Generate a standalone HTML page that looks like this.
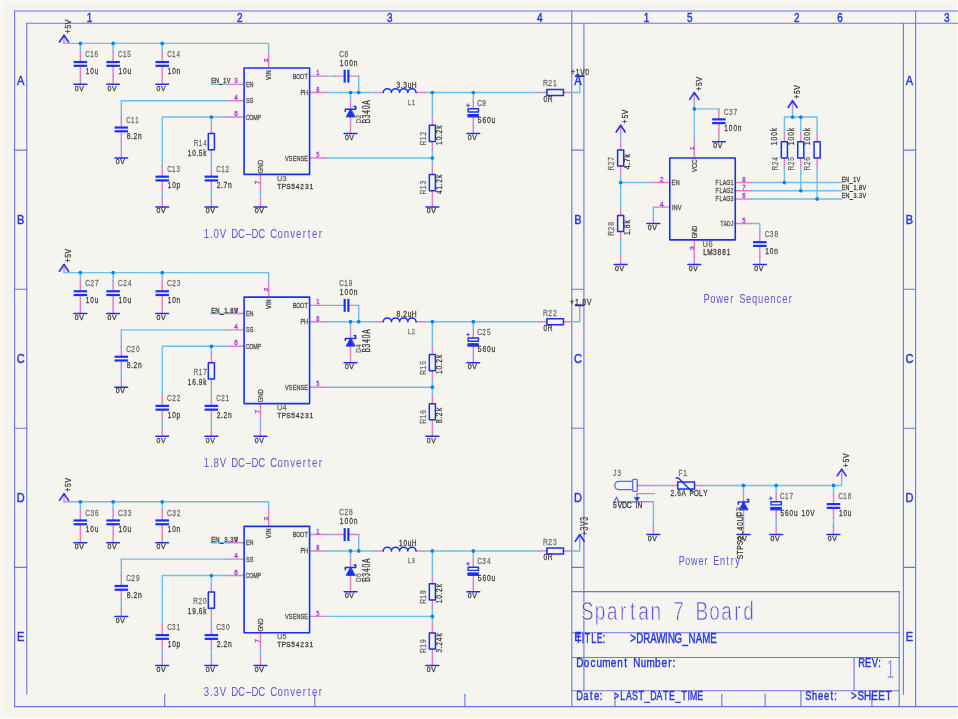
<!DOCTYPE html>
<html><head><meta charset="utf-8"><style>
html,body{margin:0;padding:0;background:#F5F4EF;overflow:hidden}
svg{display:block}
.tx{will-change:transform}
</style></head><body>
<svg width="958" height="719" viewBox="0 0 958 719">
<rect width="958" height="719" fill="#F5F4EF"/>
<rect x="1.5" y="1.5" width="956" height="716.5" fill="none" stroke="#FFFFFF" stroke-width="1"/>
<g stroke="#6677E6" fill="none" stroke-linecap="round"><line x1="14.6" y1="11" x2="958" y2="11" stroke-width="1.1"/><line x1="26.8" y1="23.2" x2="958" y2="23.2" stroke-width="1.1"/><line x1="14.6" y1="11" x2="14.6" y2="706.6" stroke-width="1.1"/><line x1="26.8" y1="23.2" x2="26.8" y2="694.2" stroke-width="1.1"/><line x1="14.6" y1="706.6" x2="958" y2="706.6" stroke-width="1.1"/><line x1="915.6" y1="11" x2="915.6" y2="706.6" stroke-width="1.1"/><line x1="903.4" y1="23.2" x2="903.4" y2="694.2" stroke-width="1.1"/><line x1="14.6" y1="150.1" x2="26.8" y2="150.1" stroke-width="1.1"/><line x1="903.4" y1="150.1" x2="915.6" y2="150.1" stroke-width="1.1"/><line x1="571.8" y1="150.1" x2="583.9" y2="150.1" stroke-width="1.1"/><line x1="14.6" y1="289.2" x2="26.8" y2="289.2" stroke-width="1.1"/><line x1="903.4" y1="289.2" x2="915.6" y2="289.2" stroke-width="1.1"/><line x1="571.8" y1="289.2" x2="583.9" y2="289.2" stroke-width="1.1"/><line x1="14.6" y1="428.3" x2="26.8" y2="428.3" stroke-width="1.1"/><line x1="903.4" y1="428.3" x2="915.6" y2="428.3" stroke-width="1.1"/><line x1="571.8" y1="428.3" x2="583.9" y2="428.3" stroke-width="1.1"/><line x1="14.6" y1="567.4" x2="26.8" y2="567.4" stroke-width="1.1"/><line x1="903.4" y1="567.4" x2="915.6" y2="567.4" stroke-width="1.1"/><line x1="571.8" y1="567.4" x2="583.9" y2="567.4" stroke-width="1.1"/><line x1="164.7" y1="694.2" x2="164.7" y2="706.6" stroke-width="1.1"/><line x1="314.8" y1="694.2" x2="314.8" y2="706.6" stroke-width="1.1"/><line x1="464.9" y1="694.2" x2="464.9" y2="706.6" stroke-width="1.1"/><line x1="615" y1="694.2" x2="615" y2="706.6" stroke-width="1.1"/><line x1="765.1" y1="694.2" x2="765.1" y2="706.6" stroke-width="1.1"/><line x1="721.8" y1="694.2" x2="721.8" y2="706.6" stroke-width="1.1"/><line x1="871.9" y1="694.2" x2="871.9" y2="706.6" stroke-width="1.1"/><line x1="571.8" y1="11" x2="571.8" y2="706.6" stroke-width="1.1"/><line x1="583.9" y1="23.2" x2="583.9" y2="690.6" stroke-width="1.1"/><line x1="571.8" y1="591.6" x2="899.2" y2="591.6" stroke-width="1.1"/><line x1="571.8" y1="632.7" x2="899.2" y2="632.7" stroke-width="1.1"/><line x1="571.8" y1="657.5" x2="899.2" y2="657.5" stroke-width="1.1"/><line x1="571.8" y1="690.7" x2="899.2" y2="690.7" stroke-width="1.1"/><line x1="899.2" y1="591.6" x2="899.2" y2="706.6" stroke-width="1.1"/><line x1="854.1" y1="657.5" x2="854.1" y2="690.7" stroke-width="1.1"/><line x1="800.9" y1="690.7" x2="800.9" y2="706.6" stroke-width="1.1"/></g>
<g stroke="#6CBEEC" stroke-width="1.4" fill="none" stroke-linecap="round" stroke-linejoin="round"><polyline points="64.01,43.4 268.66,43.4 268.66,51.59"/><polyline points="80.38,43.4 80.38,51.59"/><polyline points="113.12,43.4 113.12,51.59"/><polyline points="162.24,43.4 162.24,51.59"/><polyline points="210.95,84.33 227.73,84.33"/><polyline points="121.31,117.07 121.31,100.7 227.73,100.7"/><polyline points="121.31,141.63 121.31,149.82"/><polyline points="162.24,166.19 162.24,117.07 227.73,117.07"/><polyline points="211.36,117.07 211.36,125.26"/><polyline points="211.36,158 211.36,166.19"/><polyline points="211.36,190.75 211.36,198.93"/><polyline points="162.24,190.75 162.24,198.93"/><polyline points="260.47,190.75 260.47,198.93"/><polyline points="325.96,76.14 334.15,76.14"/><polyline points="358.7,76.14 358.7,92.52"/><polyline points="325.96,92.52 375.08,92.52"/><polyline points="350.52,92.52 350.52,100.7"/><polyline points="424.19,92.52 538.8,92.52"/><polyline points="571.54,92.52 579.73,92.52 579.73,84.33"/><polyline points="432.38,92.52 432.38,117.07"/><polyline points="432.38,149.82 432.38,166.19"/><polyline points="325.96,158 432.38,158"/><polyline points="473.31,92.52 473.31,100.7"/><polyline points="64.01,272.61 268.66,272.61 268.66,280.79"/><polyline points="80.38,272.61 80.38,280.79"/><polyline points="113.12,272.61 113.12,280.79"/><polyline points="162.24,272.61 162.24,280.79"/><polyline points="210.95,313.54 227.73,313.54"/><polyline points="121.31,346.28 121.31,329.91 227.73,329.91"/><polyline points="121.31,370.84 121.31,379.03"/><polyline points="162.24,395.4 162.24,346.28 227.73,346.28"/><polyline points="211.36,346.28 211.36,354.47"/><polyline points="211.36,387.21 211.36,395.4"/><polyline points="211.36,419.96 211.36,428.14"/><polyline points="162.24,419.96 162.24,428.14"/><polyline points="260.47,419.96 260.47,428.14"/><polyline points="325.96,305.35 334.15,305.35"/><polyline points="358.7,305.35 358.7,321.72"/><polyline points="325.96,321.72 375.08,321.72"/><polyline points="350.52,321.72 350.52,329.91"/><polyline points="424.19,321.72 538.8,321.72"/><polyline points="571.54,321.72 579.73,321.72 579.73,313.54"/><polyline points="432.38,321.72 432.38,346.28"/><polyline points="432.38,379.03 432.38,395.4"/><polyline points="325.96,387.21 432.38,387.21"/><polyline points="473.31,321.72 473.31,329.91"/><polyline points="64.01,501.82 268.66,501.82 268.66,510"/><polyline points="80.38,501.82 80.38,510"/><polyline points="113.12,501.82 113.12,510"/><polyline points="162.24,501.82 162.24,510"/><polyline points="210.95,542.75 227.73,542.75"/><polyline points="121.31,575.49 121.31,559.12 227.73,559.12"/><polyline points="121.31,600.05 121.31,608.23"/><polyline points="162.24,624.61 162.24,575.49 227.73,575.49"/><polyline points="211.36,575.49 211.36,583.68"/><polyline points="211.36,616.42 211.36,624.61"/><polyline points="211.36,649.16 211.36,657.35"/><polyline points="162.24,649.16 162.24,657.35"/><polyline points="260.47,649.16 260.47,657.35"/><polyline points="325.96,534.56 334.15,534.56"/><polyline points="358.7,534.56 358.7,550.93"/><polyline points="325.96,550.93 375.08,550.93"/><polyline points="350.52,550.93 350.52,559.12"/><polyline points="424.19,550.93 538.8,550.93"/><polyline points="571.54,550.93 579.73,550.93 579.73,542.75"/><polyline points="432.38,550.93 432.38,575.49"/><polyline points="432.38,608.23 432.38,624.61"/><polyline points="325.96,616.42 432.38,616.42"/><polyline points="473.31,550.93 473.31,559.12"/><polyline points="694.33,100.7 694.33,141.63"/><polyline points="694.33,108.89 718.89,108.89"/><polyline points="620.66,133.45 620.66,141.63"/><polyline points="620.66,174.38 620.66,207.12"/><polyline points="620.66,182.56 653.4,182.56"/><polyline points="620.66,239.86 620.66,256.24"/><polyline points="653.4,207.12 653.4,215.31"/><polyline points="751.63,182.56 841.68,182.56"/><polyline points="751.63,190.75 841.68,190.75"/><polyline points="751.63,198.93 841.68,198.93"/><polyline points="751.63,223.49 759.82,223.49 759.82,231.68"/><polyline points="784.38,166.19 784.38,182.56"/><polyline points="784.38,133.45 784.38,117.07 817.12,117.07 817.12,133.45"/><polyline points="800.75,117.07 800.75,133.45"/><polyline points="800.75,166.19 800.75,190.75"/><polyline points="817.12,166.19 817.12,198.93"/><polyline points="792.56,108.89 792.56,117.07"/><polyline points="653.4,485.44 669.77,485.44"/><polyline points="653.4,501.82 653.4,526.37"/><polyline points="702.52,485.44 841.68,485.44 841.68,477.26"/><polyline points="743.45,485.44 743.45,493.63"/><polyline points="743.45,518.19 743.45,526.37"/><polyline points="776.19,485.44 776.19,493.63"/><polyline points="776.19,518.19 776.19,526.37"/><polyline points="833.49,485.44 833.49,493.63"/><polyline points="833.49,518.19 833.49,526.37"/></g>
<g stroke="#E07CCB" stroke-width="1.4" stroke-linecap="round"><line x1="64.01" y1="35.21" x2="64.01" y2="43.4"/><line x1="80.38" y1="51.59" x2="80.38" y2="62.06"/><line x1="80.38" y1="65.77" x2="80.38" y2="76.14"/><line x1="80.38" y1="76.14" x2="80.38" y2="84.33"/><line x1="113.12" y1="51.59" x2="113.12" y2="62.06"/><line x1="113.12" y1="65.77" x2="113.12" y2="76.14"/><line x1="113.12" y1="76.14" x2="113.12" y2="84.33"/><line x1="162.24" y1="51.59" x2="162.24" y2="62.06"/><line x1="162.24" y1="65.77" x2="162.24" y2="76.14"/><line x1="162.24" y1="76.14" x2="162.24" y2="84.33"/><line x1="121.31" y1="117.07" x2="121.31" y2="127.55"/><line x1="121.31" y1="131.25" x2="121.31" y2="141.63"/><line x1="121.31" y1="149.82" x2="121.31" y2="158"/><line x1="162.24" y1="166.19" x2="162.24" y2="176.67"/><line x1="162.24" y1="180.37" x2="162.24" y2="190.75"/><line x1="162.24" y1="198.93" x2="162.24" y2="207.12"/><line x1="211.36" y1="166.19" x2="211.36" y2="176.67"/><line x1="211.36" y1="180.37" x2="211.36" y2="190.75"/><line x1="211.36" y1="198.93" x2="211.36" y2="207.12"/><line x1="211.36" y1="125.26" x2="211.36" y2="133.45"/><line x1="211.36" y1="149.82" x2="211.36" y2="158"/><line x1="268.66" y1="51.59" x2="268.66" y2="67.96"/><line x1="227.73" y1="84.33" x2="244.1" y2="84.33"/><line x1="227.73" y1="100.7" x2="244.1" y2="100.7"/><line x1="227.73" y1="117.07" x2="244.1" y2="117.07"/><line x1="309.59" y1="76.14" x2="325.96" y2="76.14"/><line x1="309.59" y1="92.52" x2="325.96" y2="92.52"/><line x1="309.59" y1="158" x2="325.96" y2="158"/><line x1="260.47" y1="174.38" x2="260.47" y2="190.75"/><line x1="260.47" y1="198.93" x2="260.47" y2="207.12"/><line x1="334.15" y1="76.14" x2="344.82" y2="76.14"/><line x1="348.03" y1="76.14" x2="358.7" y2="76.14"/><line x1="350.52" y1="100.7" x2="350.52" y2="109.18"/><line x1="350.52" y1="116.88" x2="350.52" y2="125.26"/><line x1="350.52" y1="125.26" x2="350.52" y2="133.45"/><line x1="375.08" y1="92.52" x2="383.26" y2="92.52"/><line x1="416.01" y1="92.52" x2="424.19" y2="92.52"/><line x1="432.38" y1="117.07" x2="432.38" y2="125.26"/><line x1="432.38" y1="141.63" x2="432.38" y2="149.82"/><line x1="432.38" y1="166.19" x2="432.38" y2="174.38"/><line x1="432.38" y1="190.75" x2="432.38" y2="198.93"/><line x1="432.38" y1="198.93" x2="432.38" y2="207.12"/><line x1="473.31" y1="100.7" x2="473.31" y2="108.78"/><line x1="473.31" y1="116.98" x2="473.31" y2="125.26"/><line x1="473.31" y1="125.26" x2="473.31" y2="133.45"/><line x1="538.8" y1="92.52" x2="546.98" y2="92.52"/><line x1="563.35" y1="92.52" x2="571.54" y2="92.52"/><line x1="579.73" y1="76.14" x2="579.73" y2="84.33"/><line x1="64.01" y1="264.42" x2="64.01" y2="272.61"/><line x1="80.38" y1="280.79" x2="80.38" y2="291.27"/><line x1="80.38" y1="294.97" x2="80.38" y2="305.35"/><line x1="80.38" y1="305.35" x2="80.38" y2="313.54"/><line x1="113.12" y1="280.79" x2="113.12" y2="291.27"/><line x1="113.12" y1="294.97" x2="113.12" y2="305.35"/><line x1="113.12" y1="305.35" x2="113.12" y2="313.54"/><line x1="162.24" y1="280.79" x2="162.24" y2="291.27"/><line x1="162.24" y1="294.97" x2="162.24" y2="305.35"/><line x1="162.24" y1="305.35" x2="162.24" y2="313.54"/><line x1="121.31" y1="346.28" x2="121.31" y2="356.76"/><line x1="121.31" y1="360.46" x2="121.31" y2="370.84"/><line x1="121.31" y1="379.03" x2="121.31" y2="387.21"/><line x1="162.24" y1="395.4" x2="162.24" y2="405.88"/><line x1="162.24" y1="409.58" x2="162.24" y2="419.96"/><line x1="162.24" y1="428.14" x2="162.24" y2="436.33"/><line x1="211.36" y1="395.4" x2="211.36" y2="405.88"/><line x1="211.36" y1="409.58" x2="211.36" y2="419.96"/><line x1="211.36" y1="428.14" x2="211.36" y2="436.33"/><line x1="211.36" y1="354.47" x2="211.36" y2="362.65"/><line x1="211.36" y1="379.03" x2="211.36" y2="387.21"/><line x1="268.66" y1="280.79" x2="268.66" y2="297.17"/><line x1="227.73" y1="313.54" x2="244.1" y2="313.54"/><line x1="227.73" y1="329.91" x2="244.1" y2="329.91"/><line x1="227.73" y1="346.28" x2="244.1" y2="346.28"/><line x1="309.59" y1="305.35" x2="325.96" y2="305.35"/><line x1="309.59" y1="321.72" x2="325.96" y2="321.72"/><line x1="309.59" y1="387.21" x2="325.96" y2="387.21"/><line x1="260.47" y1="403.58" x2="260.47" y2="419.96"/><line x1="260.47" y1="428.14" x2="260.47" y2="436.33"/><line x1="334.15" y1="305.35" x2="344.82" y2="305.35"/><line x1="348.03" y1="305.35" x2="358.7" y2="305.35"/><line x1="350.52" y1="329.91" x2="350.52" y2="338.39"/><line x1="350.52" y1="346.09" x2="350.52" y2="354.47"/><line x1="350.52" y1="354.47" x2="350.52" y2="362.65"/><line x1="375.08" y1="321.72" x2="383.26" y2="321.72"/><line x1="416.01" y1="321.72" x2="424.19" y2="321.72"/><line x1="432.38" y1="346.28" x2="432.38" y2="354.47"/><line x1="432.38" y1="370.84" x2="432.38" y2="379.03"/><line x1="432.38" y1="395.4" x2="432.38" y2="403.58"/><line x1="432.38" y1="419.96" x2="432.38" y2="428.14"/><line x1="432.38" y1="428.14" x2="432.38" y2="436.33"/><line x1="473.31" y1="329.91" x2="473.31" y2="337.99"/><line x1="473.31" y1="346.19" x2="473.31" y2="354.47"/><line x1="473.31" y1="354.47" x2="473.31" y2="362.65"/><line x1="538.8" y1="321.72" x2="546.98" y2="321.72"/><line x1="563.35" y1="321.72" x2="571.54" y2="321.72"/><line x1="579.73" y1="305.35" x2="579.73" y2="313.54"/><line x1="64.01" y1="493.63" x2="64.01" y2="501.82"/><line x1="80.38" y1="510" x2="80.38" y2="520.48"/><line x1="80.38" y1="524.18" x2="80.38" y2="534.56"/><line x1="80.38" y1="534.56" x2="80.38" y2="542.75"/><line x1="113.12" y1="510" x2="113.12" y2="520.48"/><line x1="113.12" y1="524.18" x2="113.12" y2="534.56"/><line x1="113.12" y1="534.56" x2="113.12" y2="542.75"/><line x1="162.24" y1="510" x2="162.24" y2="520.48"/><line x1="162.24" y1="524.18" x2="162.24" y2="534.56"/><line x1="162.24" y1="534.56" x2="162.24" y2="542.75"/><line x1="121.31" y1="575.49" x2="121.31" y2="585.97"/><line x1="121.31" y1="589.67" x2="121.31" y2="600.05"/><line x1="121.31" y1="608.23" x2="121.31" y2="616.42"/><line x1="162.24" y1="624.61" x2="162.24" y2="635.09"/><line x1="162.24" y1="638.78" x2="162.24" y2="649.16"/><line x1="162.24" y1="657.35" x2="162.24" y2="665.54"/><line x1="211.36" y1="624.61" x2="211.36" y2="635.09"/><line x1="211.36" y1="638.78" x2="211.36" y2="649.16"/><line x1="211.36" y1="657.35" x2="211.36" y2="665.54"/><line x1="211.36" y1="583.68" x2="211.36" y2="591.86"/><line x1="211.36" y1="608.23" x2="211.36" y2="616.42"/><line x1="268.66" y1="510" x2="268.66" y2="526.37"/><line x1="227.73" y1="542.75" x2="244.1" y2="542.75"/><line x1="227.73" y1="559.12" x2="244.1" y2="559.12"/><line x1="227.73" y1="575.49" x2="244.1" y2="575.49"/><line x1="309.59" y1="534.56" x2="325.96" y2="534.56"/><line x1="309.59" y1="550.93" x2="325.96" y2="550.93"/><line x1="309.59" y1="616.42" x2="325.96" y2="616.42"/><line x1="260.47" y1="632.79" x2="260.47" y2="649.16"/><line x1="260.47" y1="657.35" x2="260.47" y2="665.54"/><line x1="334.15" y1="534.56" x2="344.82" y2="534.56"/><line x1="348.03" y1="534.56" x2="358.7" y2="534.56"/><line x1="350.52" y1="559.12" x2="350.52" y2="567.6"/><line x1="350.52" y1="575.3" x2="350.52" y2="583.68"/><line x1="350.52" y1="583.68" x2="350.52" y2="591.86"/><line x1="375.08" y1="550.93" x2="383.26" y2="550.93"/><line x1="416.01" y1="550.93" x2="424.19" y2="550.93"/><line x1="432.38" y1="575.49" x2="432.38" y2="583.68"/><line x1="432.38" y1="600.05" x2="432.38" y2="608.23"/><line x1="432.38" y1="624.61" x2="432.38" y2="632.79"/><line x1="432.38" y1="649.16" x2="432.38" y2="657.35"/><line x1="432.38" y1="657.35" x2="432.38" y2="665.54"/><line x1="473.31" y1="559.12" x2="473.31" y2="567.2"/><line x1="473.31" y1="575.4" x2="473.31" y2="583.68"/><line x1="473.31" y1="583.68" x2="473.31" y2="591.86"/><line x1="538.8" y1="550.93" x2="546.98" y2="550.93"/><line x1="563.35" y1="550.93" x2="571.54" y2="550.93"/><line x1="579.73" y1="534.56" x2="579.73" y2="542.75"/><line x1="694.33" y1="92.52" x2="694.33" y2="100.7"/><line x1="718.89" y1="108.89" x2="718.89" y2="119.37"/><line x1="718.89" y1="123.07" x2="718.89" y2="133.45"/><line x1="718.89" y1="133.45" x2="718.89" y2="141.63"/><line x1="620.66" y1="125.26" x2="620.66" y2="133.45"/><line x1="620.66" y1="141.63" x2="620.66" y2="149.82"/><line x1="620.66" y1="166.19" x2="620.66" y2="174.38"/><line x1="620.66" y1="207.12" x2="620.66" y2="215.31"/><line x1="620.66" y1="231.68" x2="620.66" y2="239.86"/><line x1="620.66" y1="256.24" x2="620.66" y2="264.42"/><line x1="694.33" y1="141.63" x2="694.33" y2="158"/><line x1="653.4" y1="182.56" x2="669.77" y2="182.56"/><line x1="653.4" y1="207.12" x2="669.77" y2="207.12"/><line x1="653.4" y1="215.31" x2="653.4" y2="223.49"/><line x1="694.33" y1="239.86" x2="694.33" y2="256.24"/><line x1="694.33" y1="256.24" x2="694.33" y2="264.42"/><line x1="735.26" y1="182.56" x2="751.63" y2="182.56"/><line x1="735.26" y1="190.75" x2="751.63" y2="190.75"/><line x1="735.26" y1="198.93" x2="751.63" y2="198.93"/><line x1="735.26" y1="223.49" x2="751.63" y2="223.49"/><line x1="759.82" y1="231.68" x2="759.82" y2="242.16"/><line x1="759.82" y1="245.86" x2="759.82" y2="256.24"/><line x1="759.82" y1="256.24" x2="759.82" y2="264.42"/><line x1="784.38" y1="133.45" x2="784.38" y2="141.63"/><line x1="784.38" y1="158" x2="784.38" y2="166.19"/><line x1="800.75" y1="133.45" x2="800.75" y2="141.63"/><line x1="800.75" y1="158" x2="800.75" y2="166.19"/><line x1="817.12" y1="133.45" x2="817.12" y2="141.63"/><line x1="817.12" y1="158" x2="817.12" y2="166.19"/><line x1="792.56" y1="100.7" x2="792.56" y2="108.89"/><line x1="637.03" y1="485.44" x2="653.4" y2="485.44"/><line x1="637.03" y1="493.63" x2="654.6" y2="493.63"/><line x1="637.03" y1="501.82" x2="653.4" y2="501.82"/><line x1="653.4" y1="526.37" x2="653.4" y2="534.56"/><line x1="669.77" y1="485.44" x2="677.96" y2="485.44"/><line x1="694.33" y1="485.44" x2="702.52" y2="485.44"/><line x1="841.68" y1="469.07" x2="841.68" y2="477.26"/><line x1="743.45" y1="493.63" x2="743.45" y2="502.11"/><line x1="743.45" y1="509.81" x2="743.45" y2="518.19"/><line x1="743.45" y1="526.37" x2="743.45" y2="534.56"/><line x1="776.19" y1="493.63" x2="776.19" y2="501.71"/><line x1="776.19" y1="509.91" x2="776.19" y2="518.19"/><line x1="776.19" y1="526.37" x2="776.19" y2="534.56"/><line x1="833.49" y1="493.63" x2="833.49" y2="504.11"/><line x1="833.49" y1="507.81" x2="833.49" y2="518.19"/><line x1="833.49" y1="526.37" x2="833.49" y2="534.56"/></g>
<g stroke="#1830F0" fill="none" stroke-linecap="round" stroke-linejoin="round"><polyline points="59.51,42.01 64.01,35.21 68.51,42.01" stroke-width="1.6" fill="none"/><line x1="73.63" y1="62.06" x2="87.13" y2="62.06" stroke-width="2.2" stroke-linecap="butt"/><line x1="73.63" y1="65.81" x2="87.13" y2="65.81" stroke-width="2.2" stroke-linecap="butt"/><line x1="73.98" y1="84.33" x2="86.78" y2="84.33" stroke-width="1.5"/><line x1="106.37" y1="62.06" x2="119.87" y2="62.06" stroke-width="2.2" stroke-linecap="butt"/><line x1="106.37" y1="65.81" x2="119.87" y2="65.81" stroke-width="2.2" stroke-linecap="butt"/><line x1="106.72" y1="84.33" x2="119.52" y2="84.33" stroke-width="1.5"/><line x1="155.49" y1="62.06" x2="168.99" y2="62.06" stroke-width="2.2" stroke-linecap="butt"/><line x1="155.49" y1="65.81" x2="168.99" y2="65.81" stroke-width="2.2" stroke-linecap="butt"/><line x1="155.84" y1="84.33" x2="168.64" y2="84.33" stroke-width="1.5"/><line x1="114.56" y1="127.55" x2="128.06" y2="127.55" stroke-width="2.2" stroke-linecap="butt"/><line x1="114.56" y1="131.3" x2="128.06" y2="131.3" stroke-width="2.2" stroke-linecap="butt"/><line x1="114.91" y1="158" x2="127.71" y2="158" stroke-width="1.5"/><line x1="155.49" y1="176.67" x2="168.99" y2="176.67" stroke-width="2.2" stroke-linecap="butt"/><line x1="155.49" y1="180.42" x2="168.99" y2="180.42" stroke-width="2.2" stroke-linecap="butt"/><line x1="155.84" y1="207.12" x2="168.64" y2="207.12" stroke-width="1.5"/><line x1="204.61" y1="176.67" x2="218.11" y2="176.67" stroke-width="2.2" stroke-linecap="butt"/><line x1="204.61" y1="180.42" x2="218.11" y2="180.42" stroke-width="2.2" stroke-linecap="butt"/><line x1="204.96" y1="207.12" x2="217.76" y2="207.12" stroke-width="1.5"/><rect x="208.31" y="133.53" width="6.1" height="16.2" stroke-width="1.5" fill="none"/><rect x="244.1" y="67.96" width="65.49" height="106.42" stroke-width="1.6" fill="none"/><line x1="254.07" y1="207.12" x2="266.87" y2="207.12" stroke-width="1.5"/><line x1="344.68" y1="69.69" x2="344.68" y2="82.59" stroke-width="2.2" stroke-linecap="butt"/><line x1="348.38" y1="69.69" x2="348.38" y2="82.59" stroke-width="2.2" stroke-linecap="butt"/><path d="M350.52 109.18 L346.32 116.88 L354.72 116.88 Z" fill="#1830F0" stroke-width="1"/><path d="M345.32 109.18 v2.2 M345.32 109.18 H355.72 M355.72 109.18 v-2.6 h-1.6" stroke-width="1.5" fill="none"/><line x1="344.12" y1="133.45" x2="356.92" y2="133.45" stroke-width="1.5"/><path d="M383.26 92.52 a4.09 3.68 0 0 1 8.19 0 a4.09 3.68 0 0 1 8.19 0 a4.09 3.68 0 0 1 8.19 0 a4.09 3.68 0 0 1 8.19 0" stroke-width="1.5" fill="none"/><rect x="429.33" y="125.35" width="6.1" height="16.2" stroke-width="1.5" fill="none"/><rect x="429.33" y="174.46" width="6.1" height="16.2" stroke-width="1.5" fill="none"/><line x1="425.98" y1="207.12" x2="438.78" y2="207.12" stroke-width="1.5"/><rect x="468.16" y="108.78" width="10.3" height="3.2" stroke-width="1.4" fill="none"/><rect x="468.16" y="114.48" width="10.3" height="2.5" stroke-width="1" fill="#1830F0"/><path d="M466.51 105.38h3M468.01 103.88v3" stroke-width="0.8"/><line x1="466.91" y1="133.45" x2="479.71" y2="133.45" stroke-width="1.5"/><rect x="546.87" y="89.47" width="16.6" height="6.1" stroke-width="1.5" fill="none"/><line x1="575.43" y1="76.14" x2="583.83" y2="76.14" stroke-width="1.6"/><polyline points="59.51,271.22 64.01,264.42 68.51,271.22" stroke-width="1.6" fill="none"/><line x1="73.63" y1="291.27" x2="87.13" y2="291.27" stroke-width="2.2" stroke-linecap="butt"/><line x1="73.63" y1="295.02" x2="87.13" y2="295.02" stroke-width="2.2" stroke-linecap="butt"/><line x1="73.98" y1="313.54" x2="86.78" y2="313.54" stroke-width="1.5"/><line x1="106.37" y1="291.27" x2="119.87" y2="291.27" stroke-width="2.2" stroke-linecap="butt"/><line x1="106.37" y1="295.02" x2="119.87" y2="295.02" stroke-width="2.2" stroke-linecap="butt"/><line x1="106.72" y1="313.54" x2="119.52" y2="313.54" stroke-width="1.5"/><line x1="155.49" y1="291.27" x2="168.99" y2="291.27" stroke-width="2.2" stroke-linecap="butt"/><line x1="155.49" y1="295.02" x2="168.99" y2="295.02" stroke-width="2.2" stroke-linecap="butt"/><line x1="155.84" y1="313.54" x2="168.64" y2="313.54" stroke-width="1.5"/><line x1="114.56" y1="356.76" x2="128.06" y2="356.76" stroke-width="2.2" stroke-linecap="butt"/><line x1="114.56" y1="360.51" x2="128.06" y2="360.51" stroke-width="2.2" stroke-linecap="butt"/><line x1="114.91" y1="387.21" x2="127.71" y2="387.21" stroke-width="1.5"/><line x1="155.49" y1="405.88" x2="168.99" y2="405.88" stroke-width="2.2" stroke-linecap="butt"/><line x1="155.49" y1="409.63" x2="168.99" y2="409.63" stroke-width="2.2" stroke-linecap="butt"/><line x1="155.84" y1="436.33" x2="168.64" y2="436.33" stroke-width="1.5"/><line x1="204.61" y1="405.88" x2="218.11" y2="405.88" stroke-width="2.2" stroke-linecap="butt"/><line x1="204.61" y1="409.63" x2="218.11" y2="409.63" stroke-width="2.2" stroke-linecap="butt"/><line x1="204.96" y1="436.33" x2="217.76" y2="436.33" stroke-width="1.5"/><rect x="208.31" y="362.74" width="6.1" height="16.2" stroke-width="1.5" fill="none"/><rect x="244.1" y="297.17" width="65.49" height="106.42" stroke-width="1.6" fill="none"/><line x1="254.07" y1="436.33" x2="266.87" y2="436.33" stroke-width="1.5"/><line x1="344.68" y1="298.9" x2="344.68" y2="311.8" stroke-width="2.2" stroke-linecap="butt"/><line x1="348.38" y1="298.9" x2="348.38" y2="311.8" stroke-width="2.2" stroke-linecap="butt"/><path d="M350.52 338.39 L346.32 346.09 L354.72 346.09 Z" fill="#1830F0" stroke-width="1"/><path d="M345.32 338.39 v2.2 M345.32 338.39 H355.72 M355.72 338.39 v-2.6 h-1.6" stroke-width="1.5" fill="none"/><line x1="344.12" y1="362.65" x2="356.92" y2="362.65" stroke-width="1.5"/><path d="M383.26 321.72 a4.09 3.68 0 0 1 8.19 0 a4.09 3.68 0 0 1 8.19 0 a4.09 3.68 0 0 1 8.19 0 a4.09 3.68 0 0 1 8.19 0" stroke-width="1.5" fill="none"/><rect x="429.33" y="354.55" width="6.1" height="16.2" stroke-width="1.5" fill="none"/><rect x="429.33" y="403.67" width="6.1" height="16.2" stroke-width="1.5" fill="none"/><line x1="425.98" y1="436.33" x2="438.78" y2="436.33" stroke-width="1.5"/><rect x="468.16" y="337.99" width="10.3" height="3.2" stroke-width="1.4" fill="none"/><rect x="468.16" y="343.69" width="10.3" height="2.5" stroke-width="1" fill="#1830F0"/><path d="M466.51 334.59h3M468.01 333.09v3" stroke-width="0.8"/><line x1="466.91" y1="362.65" x2="479.71" y2="362.65" stroke-width="1.5"/><rect x="546.87" y="318.67" width="16.6" height="6.1" stroke-width="1.5" fill="none"/><line x1="575.43" y1="305.35" x2="583.83" y2="305.35" stroke-width="1.6"/><polyline points="59.51,500.43 64.01,493.63 68.51,500.43" stroke-width="1.6" fill="none"/><line x1="73.63" y1="520.48" x2="87.13" y2="520.48" stroke-width="2.2" stroke-linecap="butt"/><line x1="73.63" y1="524.23" x2="87.13" y2="524.23" stroke-width="2.2" stroke-linecap="butt"/><line x1="73.98" y1="542.75" x2="86.78" y2="542.75" stroke-width="1.5"/><line x1="106.37" y1="520.48" x2="119.87" y2="520.48" stroke-width="2.2" stroke-linecap="butt"/><line x1="106.37" y1="524.23" x2="119.87" y2="524.23" stroke-width="2.2" stroke-linecap="butt"/><line x1="106.72" y1="542.75" x2="119.52" y2="542.75" stroke-width="1.5"/><line x1="155.49" y1="520.48" x2="168.99" y2="520.48" stroke-width="2.2" stroke-linecap="butt"/><line x1="155.49" y1="524.23" x2="168.99" y2="524.23" stroke-width="2.2" stroke-linecap="butt"/><line x1="155.84" y1="542.75" x2="168.64" y2="542.75" stroke-width="1.5"/><line x1="114.56" y1="585.97" x2="128.06" y2="585.97" stroke-width="2.2" stroke-linecap="butt"/><line x1="114.56" y1="589.72" x2="128.06" y2="589.72" stroke-width="2.2" stroke-linecap="butt"/><line x1="114.91" y1="616.42" x2="127.71" y2="616.42" stroke-width="1.5"/><line x1="155.49" y1="635.09" x2="168.99" y2="635.09" stroke-width="2.2" stroke-linecap="butt"/><line x1="155.49" y1="638.84" x2="168.99" y2="638.84" stroke-width="2.2" stroke-linecap="butt"/><line x1="155.84" y1="665.54" x2="168.64" y2="665.54" stroke-width="1.5"/><line x1="204.61" y1="635.09" x2="218.11" y2="635.09" stroke-width="2.2" stroke-linecap="butt"/><line x1="204.61" y1="638.84" x2="218.11" y2="638.84" stroke-width="2.2" stroke-linecap="butt"/><line x1="204.96" y1="665.54" x2="217.76" y2="665.54" stroke-width="1.5"/><rect x="208.31" y="591.95" width="6.1" height="16.2" stroke-width="1.5" fill="none"/><rect x="244.1" y="526.37" width="65.49" height="106.42" stroke-width="1.6" fill="none"/><line x1="254.07" y1="665.54" x2="266.87" y2="665.54" stroke-width="1.5"/><line x1="344.68" y1="528.11" x2="344.68" y2="541.01" stroke-width="2.2" stroke-linecap="butt"/><line x1="348.38" y1="528.11" x2="348.38" y2="541.01" stroke-width="2.2" stroke-linecap="butt"/><path d="M350.52 567.6 L346.32 575.3 L354.72 575.3 Z" fill="#1830F0" stroke-width="1"/><path d="M345.32 567.6 v2.2 M345.32 567.6 H355.72 M355.72 567.6 v-2.6 h-1.6" stroke-width="1.5" fill="none"/><line x1="344.12" y1="591.86" x2="356.92" y2="591.86" stroke-width="1.5"/><path d="M383.26 550.93 a4.09 3.68 0 0 1 8.19 0 a4.09 3.68 0 0 1 8.19 0 a4.09 3.68 0 0 1 8.19 0 a4.09 3.68 0 0 1 8.19 0" stroke-width="1.5" fill="none"/><rect x="429.33" y="583.76" width="6.1" height="16.2" stroke-width="1.5" fill="none"/><rect x="429.33" y="632.88" width="6.1" height="16.2" stroke-width="1.5" fill="none"/><line x1="425.98" y1="665.54" x2="438.78" y2="665.54" stroke-width="1.5"/><rect x="468.16" y="567.2" width="10.3" height="3.2" stroke-width="1.4" fill="none"/><rect x="468.16" y="572.9" width="10.3" height="2.5" stroke-width="1" fill="#1830F0"/><path d="M466.51 563.8h3M468.01 562.3v3" stroke-width="0.8"/><line x1="466.91" y1="591.86" x2="479.71" y2="591.86" stroke-width="1.5"/><rect x="546.87" y="547.88" width="16.6" height="6.1" stroke-width="1.5" fill="none"/><polyline points="575.23,541.36 579.73,534.56 584.23,541.36" stroke-width="1.6" fill="none"/><polyline points="689.83,99.32 694.33,92.52 698.83,99.32" stroke-width="1.6" fill="none"/><line x1="712.14" y1="119.37" x2="725.64" y2="119.37" stroke-width="2.2" stroke-linecap="butt"/><line x1="712.14" y1="123.12" x2="725.64" y2="123.12" stroke-width="2.2" stroke-linecap="butt"/><line x1="712.49" y1="141.63" x2="725.29" y2="141.63" stroke-width="1.5"/><polyline points="616.16,132.06 620.66,125.26 625.16,132.06" stroke-width="1.6" fill="none"/><rect x="617.61" y="149.9" width="6.1" height="16.2" stroke-width="1.5" fill="none"/><rect x="617.61" y="215.39" width="6.1" height="16.2" stroke-width="1.5" fill="none"/><line x1="614.26" y1="264.42" x2="627.06" y2="264.42" stroke-width="1.5"/><rect x="669.77" y="158" width="65.49" height="81.86" stroke-width="1.6" fill="none"/><line x1="647" y1="223.49" x2="659.8" y2="223.49" stroke-width="1.5"/><line x1="687.93" y1="264.42" x2="700.73" y2="264.42" stroke-width="1.5"/><line x1="753.07" y1="242.16" x2="766.57" y2="242.16" stroke-width="2.2" stroke-linecap="butt"/><line x1="753.07" y1="245.91" x2="766.57" y2="245.91" stroke-width="2.2" stroke-linecap="butt"/><line x1="753.42" y1="264.42" x2="766.22" y2="264.42" stroke-width="1.5"/><rect x="781.33" y="141.72" width="6.1" height="16.2" stroke-width="1.5" fill="none"/><rect x="797.7" y="141.72" width="6.1" height="16.2" stroke-width="1.5" fill="none"/><rect x="814.07" y="141.72" width="6.1" height="16.2" stroke-width="1.5" fill="none"/><polyline points="788.06,107.5 792.56,100.7 797.06,107.5" stroke-width="1.6" fill="none"/><path d="M632.6 481.3 H619 A4.2 4.2 0 0 0 619 489.7 H632.6" stroke="#5A6CF0" stroke-width="1.3" fill="none"/><rect x="632.6" y="479.3" width="4.7" height="12.1" rx="1.2" stroke="#5A6CF0" stroke-width="1.3" fill="none"/><polyline points="637,493.63 637,498 " stroke="#5A6CF0" stroke-width="1.2" fill="none"/><polyline points="619,501.82 637,501.82" stroke="#5A6CF0" stroke-width="1.3" fill="none"/><path d="M634.5 497.6 L639.5 497.6 L637 501.3 Z" fill="#1830F0" stroke-width="0.5"/><polyline points="614,502.2 616.5,497.2 619,502.2" stroke="#5A6CF0" stroke-width="1.3" fill="none"/><line x1="647" y1="534.56" x2="659.8" y2="534.56" stroke-width="1.5"/><rect x="677.74" y="481.99" width="16.8" height="6.9" stroke-width="1.5" fill="none"/><path d="M678.34 477.94 h-2.2 M678.34 477.94 L692.14 491.64" stroke-width="1.4" fill="none"/><polyline points="837.18,475.87 841.68,469.07 846.18,475.87" stroke-width="1.6" fill="none"/><path d="M743.45 502.11 L739.25 509.81 L747.65 509.81 Z" fill="#1830F0" stroke-width="1"/><path d="M738.25 502.11 v2.2 M738.25 502.11 H748.65 M748.65 502.11 v-2.6 h-1.6" stroke-width="1.5" fill="none"/><line x1="737.05" y1="534.56" x2="749.85" y2="534.56" stroke-width="1.5"/><rect x="771.04" y="501.71" width="10.3" height="3.2" stroke-width="1.4" fill="none"/><rect x="771.04" y="507.41" width="10.3" height="2.5" stroke-width="1" fill="#1830F0"/><path d="M769.39 498.31h3M770.89 496.81v3" stroke-width="0.8"/><line x1="769.79" y1="534.56" x2="782.59" y2="534.56" stroke-width="1.5"/><line x1="826.74" y1="504.11" x2="840.24" y2="504.11" stroke-width="2.2" stroke-linecap="butt"/><line x1="826.74" y1="507.86" x2="840.24" y2="507.86" stroke-width="2.2" stroke-linecap="butt"/><line x1="827.09" y1="534.56" x2="839.89" y2="534.56" stroke-width="1.5"/></g>
<g fill="#0A84E8"><circle cx="80.38" cy="43.4" r="1.85"/><circle cx="113.12" cy="43.4" r="1.85"/><circle cx="162.24" cy="43.4" r="1.85"/><circle cx="211.36" cy="117.07" r="1.85"/><circle cx="350.52" cy="92.52" r="1.85"/><circle cx="358.7" cy="92.52" r="1.85"/><circle cx="432.38" cy="92.52" r="1.85"/><circle cx="432.38" cy="158" r="1.85"/><circle cx="473.31" cy="92.52" r="1.85"/><circle cx="80.38" cy="272.61" r="1.85"/><circle cx="113.12" cy="272.61" r="1.85"/><circle cx="162.24" cy="272.61" r="1.85"/><circle cx="211.36" cy="346.28" r="1.85"/><circle cx="350.52" cy="321.72" r="1.85"/><circle cx="358.7" cy="321.72" r="1.85"/><circle cx="432.38" cy="321.72" r="1.85"/><circle cx="432.38" cy="387.21" r="1.85"/><circle cx="473.31" cy="321.72" r="1.85"/><circle cx="80.38" cy="501.82" r="1.85"/><circle cx="113.12" cy="501.82" r="1.85"/><circle cx="162.24" cy="501.82" r="1.85"/><circle cx="211.36" cy="575.49" r="1.85"/><circle cx="350.52" cy="550.93" r="1.85"/><circle cx="358.7" cy="550.93" r="1.85"/><circle cx="432.38" cy="550.93" r="1.85"/><circle cx="432.38" cy="616.42" r="1.85"/><circle cx="473.31" cy="550.93" r="1.85"/><circle cx="694.33" cy="108.89" r="1.85"/><circle cx="620.66" cy="182.56" r="1.85"/><circle cx="784.38" cy="182.56" r="1.85"/><circle cx="800.75" cy="190.75" r="1.85"/><circle cx="817.12" cy="198.93" r="1.85"/><circle cx="792.56" cy="117.07" r="1.85"/><circle cx="800.75" cy="117.07" r="1.85"/><circle cx="743.45" cy="485.44" r="1.85"/><circle cx="776.19" cy="485.44" r="1.85"/><circle cx="833.49" cy="485.44" r="1.85"/></g>
<g class="tx" style="font-family:'Liberation Sans',sans-serif"><text transform="translate(71.31,33.31) rotate(-90) scale(0.81,1)" x="2.34 8.19 14.04" y="0" text-anchor="middle" style="font-size:8.36px;fill:#3C3C3C;font-family:Liberation Sans;stroke:#3C3C3C;stroke-width:0.3">+5V</text><text transform="translate(85.78,57.26) scale(0.68,1)" x="2.59 9.07 15.55" y="0" text-anchor="middle" style="font-size:9.25px;fill:#6E6E6E;font-family:Liberation Sans;stroke:#6E6E6E;stroke-width:0.3">C16</text><text transform="translate(85.78,73.77) scale(0.68,1)" x="2.67 9.36 15.78" y="0" text-anchor="middle" style="font-size:9.55px;fill:#3C3C3C;font-family:Liberation Sans;stroke:#3C3C3C;stroke-width:0.3">10u</text><text transform="translate(74.73,90.53) scale(0.93,1)" x="2.09 7.31" y="0" text-anchor="middle" style="font-size:7.46px;fill:#3C3C3C;font-family:Liberation Sans;stroke:#3C3C3C;stroke-width:0.3">0V</text><text transform="translate(118.52,57.26) scale(0.68,1)" x="2.59 9.07 15.55" y="0" text-anchor="middle" style="font-size:9.25px;fill:#6E6E6E;font-family:Liberation Sans;stroke:#6E6E6E;stroke-width:0.3">C15</text><text transform="translate(118.52,73.77) scale(0.68,1)" x="2.67 9.36 15.78" y="0" text-anchor="middle" style="font-size:9.55px;fill:#3C3C3C;font-family:Liberation Sans;stroke:#3C3C3C;stroke-width:0.3">10u</text><text transform="translate(107.47,90.53) scale(0.93,1)" x="2.09 7.31" y="0" text-anchor="middle" style="font-size:7.46px;fill:#3C3C3C;font-family:Liberation Sans;stroke:#3C3C3C;stroke-width:0.3">0V</text><text transform="translate(167.64,57.26) scale(0.68,1)" x="2.59 9.07 15.55" y="0" text-anchor="middle" style="font-size:9.25px;fill:#6E6E6E;font-family:Liberation Sans;stroke:#6E6E6E;stroke-width:0.3">C14</text><text transform="translate(167.64,73.77) scale(0.68,1)" x="2.67 9.36 15.78" y="0" text-anchor="middle" style="font-size:9.55px;fill:#3C3C3C;font-family:Liberation Sans;stroke:#3C3C3C;stroke-width:0.3">10n</text><text transform="translate(156.59,90.53) scale(0.93,1)" x="2.09 7.31" y="0" text-anchor="middle" style="font-size:7.46px;fill:#3C3C3C;font-family:Liberation Sans;stroke:#3C3C3C;stroke-width:0.3">0V</text><text transform="translate(126.71,122.75) scale(0.66,1)" x="2.59 9.07 15.55" y="0" text-anchor="middle" style="font-size:9.25px;fill:#6E6E6E;font-family:Liberation Sans;stroke:#6E6E6E;stroke-width:0.3">C11</text><text transform="translate(126.71,139.25) scale(0.7,1)" x="2.67 7.52 12.37 18.79" y="0" text-anchor="middle" style="font-size:9.55px;fill:#3C3C3C;font-family:Liberation Sans;stroke:#3C3C3C;stroke-width:0.3">8.2n</text><text transform="translate(115.66,164.2) scale(0.93,1)" x="2.09 7.31" y="0" text-anchor="middle" style="font-size:7.46px;fill:#3C3C3C;font-family:Liberation Sans;stroke:#3C3C3C;stroke-width:0.3">0V</text><text transform="translate(167.64,171.87) scale(0.68,1)" x="2.59 9.07 15.55" y="0" text-anchor="middle" style="font-size:9.25px;fill:#6E6E6E;font-family:Liberation Sans;stroke:#6E6E6E;stroke-width:0.3">C13</text><text transform="translate(167.64,188.37) scale(0.68,1)" x="2.67 9.36 15.78" y="0" text-anchor="middle" style="font-size:9.55px;fill:#3C3C3C;font-family:Liberation Sans;stroke:#3C3C3C;stroke-width:0.3">10p</text><text transform="translate(156.59,213.32) scale(0.93,1)" x="2.09 7.31" y="0" text-anchor="middle" style="font-size:7.46px;fill:#3C3C3C;font-family:Liberation Sans;stroke:#3C3C3C;stroke-width:0.3">0V</text><text transform="translate(216.76,171.87) scale(0.68,1)" x="2.59 9.07 15.55" y="0" text-anchor="middle" style="font-size:9.25px;fill:#6E6E6E;font-family:Liberation Sans;stroke:#6E6E6E;stroke-width:0.3">C12</text><text transform="translate(216.76,188.37) scale(0.7,1)" x="2.67 7.52 12.37 18.79" y="0" text-anchor="middle" style="font-size:9.55px;fill:#3C3C3C;font-family:Liberation Sans;stroke:#3C3C3C;stroke-width:0.3">2.7n</text><text transform="translate(205.71,213.32) scale(0.93,1)" x="2.09 7.31" y="0" text-anchor="middle" style="font-size:7.46px;fill:#3C3C3C;font-family:Liberation Sans;stroke:#3C3C3C;stroke-width:0.3">0V</text><text transform="translate(194.3,145.9) scale(0.66,1)" x="2.67 9.36 16.05" y="0" text-anchor="middle" style="font-size:9.55px;fill:#6E6E6E;font-family:Liberation Sans;stroke:#6E6E6E;stroke-width:0.3">R14</text><text transform="translate(187.8,155.5) scale(0.73,1)" x="2.47 8.63 13.1 17.57 23.49" y="0" text-anchor="middle" style="font-size:8.81px;fill:#3C3C3C;font-family:Liberation Sans;stroke:#3C3C3C;stroke-width:0.3">10.5k</text><text transform="translate(254.82,213.32) scale(0.93,1)" x="2.09 7.31" y="0" text-anchor="middle" style="font-size:7.46px;fill:#3C3C3C;font-family:Liberation Sans;stroke:#3C3C3C;stroke-width:0.3">0V</text><text transform="translate(246.2,86.83) scale(0.74,1)" x="2.09 7.31" y="0" text-anchor="middle" style="font-size:7.46px;fill:#4E4E4E;font-family:Liberation Sans;stroke:#4E4E4E;stroke-width:0.3">EN</text><text transform="translate(246.2,103.2) scale(0.74,1)" x="2.09 7.31" y="0" text-anchor="middle" style="font-size:7.46px;fill:#4E4E4E;font-family:Liberation Sans;stroke:#4E4E4E;stroke-width:0.3">SS</text><text transform="translate(246.2,119.57) scale(0.71,1)" x="2.09 7.31 12.93 18.54" y="0" text-anchor="middle" style="font-size:7.46px;fill:#4E4E4E;font-family:Liberation Sans;stroke:#4E4E4E;stroke-width:0.3">COMP</text><text transform="translate(292.99,78.64) scale(0.74,1)" x="2.09 7.31 12.54 17.76" y="0" text-anchor="middle" style="font-size:7.46px;fill:#4E4E4E;font-family:Liberation Sans;stroke:#4E4E4E;stroke-width:0.3">BOOT</text><text transform="translate(300.69,95.02) scale(0.74,1)" x="2.09 7.31" y="0" text-anchor="middle" style="font-size:7.46px;fill:#4E4E4E;font-family:Liberation Sans;stroke:#4E4E4E;stroke-width:0.3">PH</text><text transform="translate(285.29,160.5) scale(0.74,1)" x="2.09 7.31 12.54 17.76 22.99 28.21" y="0" text-anchor="middle" style="font-size:7.46px;fill:#4E4E4E;font-family:Liberation Sans;stroke:#4E4E4E;stroke-width:0.3">VSENSE</text><text transform="translate(234.3,83.43) scale(0.98,1)" x="1.84" y="0" text-anchor="middle" style="font-size:6.57px;fill:#9C3ADC;font-family:Liberation Sans;stroke:#9C3ADC;stroke-width:0.3">3</text><text transform="translate(234.3,99.8) scale(0.98,1)" x="1.84" y="0" text-anchor="middle" style="font-size:6.57px;fill:#9C3ADC;font-family:Liberation Sans;stroke:#9C3ADC;stroke-width:0.3">4</text><text transform="translate(234.3,116.17) scale(0.98,1)" x="1.84" y="0" text-anchor="middle" style="font-size:6.57px;fill:#9C3ADC;font-family:Liberation Sans;stroke:#9C3ADC;stroke-width:0.3">6</text><text transform="translate(316.2,75.24) scale(0.87,1)" x="1.84" y="0" text-anchor="middle" style="font-size:6.57px;fill:#9C3ADC;font-family:Liberation Sans;stroke:#9C3ADC;stroke-width:0.3">1</text><text transform="translate(316.2,91.62) scale(0.87,1)" x="1.84" y="0" text-anchor="middle" style="font-size:6.57px;fill:#9C3ADC;font-family:Liberation Sans;stroke:#9C3ADC;stroke-width:0.3">8</text><text transform="translate(316.2,157.1) scale(0.87,1)" x="1.84" y="0" text-anchor="middle" style="font-size:6.57px;fill:#9C3ADC;font-family:Liberation Sans;stroke:#9C3ADC;stroke-width:0.3">5</text><text transform="translate(267.6,62.2) rotate(-90) scale(1.11,1)" x="1.76" y="0" text-anchor="middle" style="font-size:6.27px;fill:#9C3ADC;font-family:Liberation Sans;stroke:#9C3ADC;stroke-width:0.3">2</text><text transform="translate(270.6,79.6) rotate(-90) scale(0.78,1)" x="2.01 5.77 9.53" y="0" text-anchor="middle" style="font-size:7.16px;fill:#4E4E4E;font-family:Liberation Sans;stroke:#4E4E4E;stroke-width:0.3">VIN</text><text transform="translate(262.6,172.4) rotate(-90) scale(0.8,1)" x="2.13 7.46 12.79" y="0" text-anchor="middle" style="font-size:7.61px;fill:#4E4E4E;font-family:Liberation Sans;stroke:#4E4E4E;stroke-width:0.3">GND</text><text transform="translate(259.8,184.3) rotate(-90) scale(0.95,1)" x="1.84" y="0" text-anchor="middle" style="font-size:6.57px;fill:#9C3ADC;font-family:Liberation Sans;stroke:#9C3ADC;stroke-width:0.3">7</text><text transform="translate(277.5,180.9) scale(0.94,1)" x="2.17 7.61" y="0" text-anchor="middle" style="font-size:7.76px;fill:#6E6E6E;font-family:Liberation Sans;stroke:#6E6E6E;stroke-width:0.3">U3</text><text transform="translate(277.5,189) scale(0.81,1)" x="2.26 7.9 13.54 19.18 24.82 30.47 36.11 41.75" y="0" text-anchor="middle" style="font-size:8.06px;fill:#3C3C3C;font-family:Liberation Sans;stroke:#3C3C3C;stroke-width:0.3">TPS54231</text><text transform="translate(211.6,83.4) scale(0.8,1)" x="1.92 6.73 11.53 16.34 21.15" y="0" text-anchor="middle" style="font-size:6.87px;fill:#3C3C3C;font-family:Liberation Sans;stroke:#3C3C3C;stroke-width:0.3">EN_1V</text><text transform="translate(339.8,56.9) scale(0.8,1)" x="2.34 8.19" y="0" text-anchor="middle" style="font-size:8.36px;fill:#6E6E6E;font-family:Liberation Sans;stroke:#6E6E6E;stroke-width:0.3">C8</text><text transform="translate(339.8,65.9) scale(0.7,1)" x="2.67 9.36 16.05 22.47" y="0" text-anchor="middle" style="font-size:9.55px;fill:#3C3C3C;font-family:Liberation Sans;stroke:#3C3C3C;stroke-width:0.3">100n</text><text transform="translate(344.87,139.65) scale(0.93,1)" x="2.09 7.31" y="0" text-anchor="middle" style="font-size:7.46px;fill:#3C3C3C;font-family:Liberation Sans;stroke:#3C3C3C;stroke-width:0.3">0V</text><text transform="translate(361.2,123) rotate(-90) scale(0.95,1)" x="1.88 6.58" y="0" text-anchor="middle" style="font-size:6.72px;fill:#6E6E6E;font-family:Liberation Sans;stroke:#6E6E6E;stroke-width:0.3">D2</text><text transform="translate(370.2,123) rotate(-90) scale(0.64,1)" x="2.93 10.24 17.55 24.87 32.18" y="0" text-anchor="middle" style="font-size:10.45px;fill:#3C3C3C;font-family:Liberation Sans;stroke:#3C3C3C;stroke-width:0.3">B340A</text><text transform="translate(396.4,87.6) scale(0.8,1)" x="2.34 6.58 10.82 16.44 22.06" y="0" text-anchor="middle" style="font-size:8.36px;fill:#3C3C3C;font-family:Liberation Sans;stroke:#3C3C3C;stroke-width:0.3">3.3uH</text><text transform="translate(407.9,104.5) scale(0.7,1)" x="2.21 7.75" y="0" text-anchor="middle" style="font-size:7.91px;fill:#6E6E6E;font-family:Liberation Sans;stroke:#6E6E6E;stroke-width:0.3">L1</text><text transform="translate(426.73,213.32) scale(0.93,1)" x="2.09 7.31" y="0" text-anchor="middle" style="font-size:7.46px;fill:#3C3C3C;font-family:Liberation Sans;stroke:#3C3C3C;stroke-width:0.3">0V</text><text transform="translate(426.3,144.9) rotate(-90) scale(0.69,1)" x="2.72 9.51 16.3" y="0" text-anchor="middle" style="font-size:9.7px;fill:#6E6E6E;font-family:Liberation Sans;stroke:#6E6E6E;stroke-width:0.3">R12</text><text transform="translate(442.3,144.9) rotate(-90) scale(0.72,1)" x="2.59 9.07 13.76 18.46 24.68" y="0" text-anchor="middle" style="font-size:9.25px;fill:#3C3C3C;font-family:Liberation Sans;stroke:#3C3C3C;stroke-width:0.3">10.2k</text><text transform="translate(426.3,194) rotate(-90) scale(0.7,1)" x="2.72 9.51 16.3" y="0" text-anchor="middle" style="font-size:9.7px;fill:#6E6E6E;font-family:Liberation Sans;stroke:#6E6E6E;stroke-width:0.3">R13</text><text transform="translate(442.3,194) rotate(-90) scale(0.71,1)" x="2.59 9.07 13.76 18.46 24.68" y="0" text-anchor="middle" style="font-size:9.25px;fill:#3C3C3C;font-family:Liberation Sans;stroke:#3C3C3C;stroke-width:0.3">41.2k</text><text transform="translate(477.71,105.68) scale(0.77,1)" x="2.42 8.48" y="0" text-anchor="middle" style="font-size:8.66px;fill:#6E6E6E;font-family:Liberation Sans;stroke:#6E6E6E;stroke-width:0.3">C9</text><text transform="translate(477.71,122.58) scale(0.76,1)" x="2.47 8.63 14.79 20.71" y="0" text-anchor="middle" style="font-size:8.81px;fill:#3C3C3C;font-family:Liberation Sans;stroke:#3C3C3C;stroke-width:0.3">560u</text><text transform="translate(467.66,139.65) scale(0.93,1)" x="2.09 7.31" y="0" text-anchor="middle" style="font-size:7.46px;fill:#3C3C3C;font-family:Liberation Sans;stroke:#3C3C3C;stroke-width:0.3">0V</text><text transform="translate(543.6,86.3) scale(0.72,1)" x="2.63 9.21 15.8" y="0" text-anchor="middle" style="font-size:9.4px;fill:#6E6E6E;font-family:Liberation Sans;stroke:#6E6E6E;stroke-width:0.3">R21</text><text transform="translate(543.6,102) scale(0.78,1)" x="2.38 8.34" y="0" text-anchor="middle" style="font-size:8.51px;fill:#3C3C3C;font-family:Liberation Sans;stroke:#3C3C3C;stroke-width:0.3">0R</text><text transform="translate(571.2,75.4) scale(0.77,1)" x="2.42 8.48 14.54 20.6" y="0" text-anchor="middle" style="font-size:8.66px;fill:#3C3C3C;font-family:Liberation Sans;stroke:#3C3C3C;stroke-width:0.3">+1V0</text><text transform="translate(203.8,237.7) scale(0.71,1)" x="3.8 10.7 17.59 27.1 35.42 43.73 53.24 62.75 72.26 81.76 90.08 98.4 107.53 116.28 125.02 133.77 141.57 148.41 156.21 164" y="0" text-anchor="middle" style="font-size:13.58px;fill:#5A5AD8;font-family:Liberation Sans">1.0V DC–DC Converter</text><text transform="translate(71.31,262.52) rotate(-90) scale(0.81,1)" x="2.34 8.19 14.04" y="0" text-anchor="middle" style="font-size:8.36px;fill:#3C3C3C;font-family:Liberation Sans;stroke:#3C3C3C;stroke-width:0.3">+5V</text><text transform="translate(85.78,286.47) scale(0.71,1)" x="2.59 9.07 15.55" y="0" text-anchor="middle" style="font-size:9.25px;fill:#6E6E6E;font-family:Liberation Sans;stroke:#6E6E6E;stroke-width:0.3">C27</text><text transform="translate(85.78,302.97) scale(0.68,1)" x="2.67 9.36 15.78" y="0" text-anchor="middle" style="font-size:9.55px;fill:#3C3C3C;font-family:Liberation Sans;stroke:#3C3C3C;stroke-width:0.3">10u</text><text transform="translate(74.73,319.74) scale(0.93,1)" x="2.09 7.31" y="0" text-anchor="middle" style="font-size:7.46px;fill:#3C3C3C;font-family:Liberation Sans;stroke:#3C3C3C;stroke-width:0.3">0V</text><text transform="translate(118.52,286.47) scale(0.71,1)" x="2.59 9.07 15.55" y="0" text-anchor="middle" style="font-size:9.25px;fill:#6E6E6E;font-family:Liberation Sans;stroke:#6E6E6E;stroke-width:0.3">C24</text><text transform="translate(118.52,302.97) scale(0.68,1)" x="2.67 9.36 15.78" y="0" text-anchor="middle" style="font-size:9.55px;fill:#3C3C3C;font-family:Liberation Sans;stroke:#3C3C3C;stroke-width:0.3">10u</text><text transform="translate(107.47,319.74) scale(0.93,1)" x="2.09 7.31" y="0" text-anchor="middle" style="font-size:7.46px;fill:#3C3C3C;font-family:Liberation Sans;stroke:#3C3C3C;stroke-width:0.3">0V</text><text transform="translate(167.64,286.47) scale(0.71,1)" x="2.59 9.07 15.55" y="0" text-anchor="middle" style="font-size:9.25px;fill:#6E6E6E;font-family:Liberation Sans;stroke:#6E6E6E;stroke-width:0.3">C23</text><text transform="translate(167.64,302.97) scale(0.68,1)" x="2.67 9.36 15.78" y="0" text-anchor="middle" style="font-size:9.55px;fill:#3C3C3C;font-family:Liberation Sans;stroke:#3C3C3C;stroke-width:0.3">10n</text><text transform="translate(156.59,319.74) scale(0.93,1)" x="2.09 7.31" y="0" text-anchor="middle" style="font-size:7.46px;fill:#3C3C3C;font-family:Liberation Sans;stroke:#3C3C3C;stroke-width:0.3">0V</text><text transform="translate(126.71,351.96) scale(0.71,1)" x="2.59 9.07 15.55" y="0" text-anchor="middle" style="font-size:9.25px;fill:#6E6E6E;font-family:Liberation Sans;stroke:#6E6E6E;stroke-width:0.3">C20</text><text transform="translate(126.71,368.46) scale(0.7,1)" x="2.67 7.52 12.37 18.79" y="0" text-anchor="middle" style="font-size:9.55px;fill:#3C3C3C;font-family:Liberation Sans;stroke:#3C3C3C;stroke-width:0.3">8.2n</text><text transform="translate(115.66,393.41) scale(0.93,1)" x="2.09 7.31" y="0" text-anchor="middle" style="font-size:7.46px;fill:#3C3C3C;font-family:Liberation Sans;stroke:#3C3C3C;stroke-width:0.3">0V</text><text transform="translate(167.64,401.08) scale(0.71,1)" x="2.59 9.07 15.55" y="0" text-anchor="middle" style="font-size:9.25px;fill:#6E6E6E;font-family:Liberation Sans;stroke:#6E6E6E;stroke-width:0.3">C22</text><text transform="translate(167.64,417.58) scale(0.68,1)" x="2.67 9.36 15.78" y="0" text-anchor="middle" style="font-size:9.55px;fill:#3C3C3C;font-family:Liberation Sans;stroke:#3C3C3C;stroke-width:0.3">10p</text><text transform="translate(156.59,442.53) scale(0.93,1)" x="2.09 7.31" y="0" text-anchor="middle" style="font-size:7.46px;fill:#3C3C3C;font-family:Liberation Sans;stroke:#3C3C3C;stroke-width:0.3">0V</text><text transform="translate(216.76,401.08) scale(0.68,1)" x="2.59 9.07 15.55" y="0" text-anchor="middle" style="font-size:9.25px;fill:#6E6E6E;font-family:Liberation Sans;stroke:#6E6E6E;stroke-width:0.3">C21</text><text transform="translate(216.76,417.58) scale(0.7,1)" x="2.67 7.52 12.37 18.79" y="0" text-anchor="middle" style="font-size:9.55px;fill:#3C3C3C;font-family:Liberation Sans;stroke:#3C3C3C;stroke-width:0.3">2.2n</text><text transform="translate(205.71,442.53) scale(0.93,1)" x="2.09 7.31" y="0" text-anchor="middle" style="font-size:7.46px;fill:#3C3C3C;font-family:Liberation Sans;stroke:#3C3C3C;stroke-width:0.3">0V</text><text transform="translate(194.3,375.11) scale(0.66,1)" x="2.67 9.36 16.05" y="0" text-anchor="middle" style="font-size:9.55px;fill:#6E6E6E;font-family:Liberation Sans;stroke:#6E6E6E;stroke-width:0.3">R17</text><text transform="translate(187.8,384.71) scale(0.73,1)" x="2.47 8.63 13.1 17.57 23.49" y="0" text-anchor="middle" style="font-size:8.81px;fill:#3C3C3C;font-family:Liberation Sans;stroke:#3C3C3C;stroke-width:0.3">16.9k</text><text transform="translate(254.82,442.53) scale(0.93,1)" x="2.09 7.31" y="0" text-anchor="middle" style="font-size:7.46px;fill:#3C3C3C;font-family:Liberation Sans;stroke:#3C3C3C;stroke-width:0.3">0V</text><text transform="translate(246.2,316.04) scale(0.74,1)" x="2.09 7.31" y="0" text-anchor="middle" style="font-size:7.46px;fill:#4E4E4E;font-family:Liberation Sans;stroke:#4E4E4E;stroke-width:0.3">EN</text><text transform="translate(246.2,332.41) scale(0.74,1)" x="2.09 7.31" y="0" text-anchor="middle" style="font-size:7.46px;fill:#4E4E4E;font-family:Liberation Sans;stroke:#4E4E4E;stroke-width:0.3">SS</text><text transform="translate(246.2,348.78) scale(0.71,1)" x="2.09 7.31 12.93 18.54" y="0" text-anchor="middle" style="font-size:7.46px;fill:#4E4E4E;font-family:Liberation Sans;stroke:#4E4E4E;stroke-width:0.3">COMP</text><text transform="translate(292.99,307.85) scale(0.74,1)" x="2.09 7.31 12.54 17.76" y="0" text-anchor="middle" style="font-size:7.46px;fill:#4E4E4E;font-family:Liberation Sans;stroke:#4E4E4E;stroke-width:0.3">BOOT</text><text transform="translate(300.69,324.22) scale(0.74,1)" x="2.09 7.31" y="0" text-anchor="middle" style="font-size:7.46px;fill:#4E4E4E;font-family:Liberation Sans;stroke:#4E4E4E;stroke-width:0.3">PH</text><text transform="translate(285.29,389.71) scale(0.74,1)" x="2.09 7.31 12.54 17.76 22.99 28.21" y="0" text-anchor="middle" style="font-size:7.46px;fill:#4E4E4E;font-family:Liberation Sans;stroke:#4E4E4E;stroke-width:0.3">VSENSE</text><text transform="translate(234.3,312.64) scale(0.98,1)" x="1.84" y="0" text-anchor="middle" style="font-size:6.57px;fill:#9C3ADC;font-family:Liberation Sans;stroke:#9C3ADC;stroke-width:0.3">3</text><text transform="translate(234.3,329.01) scale(0.98,1)" x="1.84" y="0" text-anchor="middle" style="font-size:6.57px;fill:#9C3ADC;font-family:Liberation Sans;stroke:#9C3ADC;stroke-width:0.3">4</text><text transform="translate(234.3,345.38) scale(0.98,1)" x="1.84" y="0" text-anchor="middle" style="font-size:6.57px;fill:#9C3ADC;font-family:Liberation Sans;stroke:#9C3ADC;stroke-width:0.3">6</text><text transform="translate(316.2,304.45) scale(0.87,1)" x="1.84" y="0" text-anchor="middle" style="font-size:6.57px;fill:#9C3ADC;font-family:Liberation Sans;stroke:#9C3ADC;stroke-width:0.3">1</text><text transform="translate(316.2,320.82) scale(0.87,1)" x="1.84" y="0" text-anchor="middle" style="font-size:6.57px;fill:#9C3ADC;font-family:Liberation Sans;stroke:#9C3ADC;stroke-width:0.3">8</text><text transform="translate(316.2,386.31) scale(0.87,1)" x="1.84" y="0" text-anchor="middle" style="font-size:6.57px;fill:#9C3ADC;font-family:Liberation Sans;stroke:#9C3ADC;stroke-width:0.3">5</text><text transform="translate(267.6,291.41) rotate(-90) scale(1.11,1)" x="1.76" y="0" text-anchor="middle" style="font-size:6.27px;fill:#9C3ADC;font-family:Liberation Sans;stroke:#9C3ADC;stroke-width:0.3">2</text><text transform="translate(270.6,308.81) rotate(-90) scale(0.78,1)" x="2.01 5.77 9.53" y="0" text-anchor="middle" style="font-size:7.16px;fill:#4E4E4E;font-family:Liberation Sans;stroke:#4E4E4E;stroke-width:0.3">VIN</text><text transform="translate(262.6,401.61) rotate(-90) scale(0.8,1)" x="2.13 7.46 12.79" y="0" text-anchor="middle" style="font-size:7.61px;fill:#4E4E4E;font-family:Liberation Sans;stroke:#4E4E4E;stroke-width:0.3">GND</text><text transform="translate(259.8,413.51) rotate(-90) scale(0.95,1)" x="1.84" y="0" text-anchor="middle" style="font-size:6.57px;fill:#9C3ADC;font-family:Liberation Sans;stroke:#9C3ADC;stroke-width:0.3">7</text><text transform="translate(277.5,410.11) scale(0.94,1)" x="2.17 7.61" y="0" text-anchor="middle" style="font-size:7.76px;fill:#6E6E6E;font-family:Liberation Sans;stroke:#6E6E6E;stroke-width:0.3">U4</text><text transform="translate(277.5,418.21) scale(0.81,1)" x="2.26 7.9 13.54 19.18 24.82 30.47 36.11 41.75" y="0" text-anchor="middle" style="font-size:8.06px;fill:#3C3C3C;font-family:Liberation Sans;stroke:#3C3C3C;stroke-width:0.3">TPS54231</text><text transform="translate(211.6,312.61) scale(0.87,1)" x="1.92 6.73 11.53 16.34 19.82 23.31 28.11" y="0" text-anchor="middle" style="font-size:6.87px;fill:#3C3C3C;font-family:Liberation Sans;stroke:#3C3C3C;stroke-width:0.3">EN_1.8V</text><text transform="translate(339.8,286.11) scale(0.76,1)" x="2.34 8.19 14.04" y="0" text-anchor="middle" style="font-size:8.36px;fill:#6E6E6E;font-family:Liberation Sans;stroke:#6E6E6E;stroke-width:0.3">C19</text><text transform="translate(339.8,295.11) scale(0.7,1)" x="2.67 9.36 16.05 22.47" y="0" text-anchor="middle" style="font-size:9.55px;fill:#3C3C3C;font-family:Liberation Sans;stroke:#3C3C3C;stroke-width:0.3">100n</text><text transform="translate(344.87,368.85) scale(0.93,1)" x="2.09 7.31" y="0" text-anchor="middle" style="font-size:7.46px;fill:#3C3C3C;font-family:Liberation Sans;stroke:#3C3C3C;stroke-width:0.3">0V</text><text transform="translate(361.2,352.21) rotate(-90) scale(0.95,1)" x="1.88 6.58" y="0" text-anchor="middle" style="font-size:6.72px;fill:#6E6E6E;font-family:Liberation Sans;stroke:#6E6E6E;stroke-width:0.3">D4</text><text transform="translate(370.2,352.21) rotate(-90) scale(0.64,1)" x="2.93 10.24 17.55 24.87 32.18" y="0" text-anchor="middle" style="font-size:10.45px;fill:#3C3C3C;font-family:Liberation Sans;stroke:#3C3C3C;stroke-width:0.3">B340A</text><text transform="translate(396.4,316.81) scale(0.8,1)" x="2.34 6.58 10.82 16.44 22.06" y="0" text-anchor="middle" style="font-size:8.36px;fill:#3C3C3C;font-family:Liberation Sans;stroke:#3C3C3C;stroke-width:0.3">8.2uH</text><text transform="translate(407.9,333.71) scale(0.7,1)" x="2.21 7.75" y="0" text-anchor="middle" style="font-size:7.91px;fill:#6E6E6E;font-family:Liberation Sans;stroke:#6E6E6E;stroke-width:0.3">L2</text><text transform="translate(426.73,442.53) scale(0.93,1)" x="2.09 7.31" y="0" text-anchor="middle" style="font-size:7.46px;fill:#3C3C3C;font-family:Liberation Sans;stroke:#3C3C3C;stroke-width:0.3">0V</text><text transform="translate(426.3,374.11) rotate(-90) scale(0.69,1)" x="2.72 9.51 16.3" y="0" text-anchor="middle" style="font-size:9.7px;fill:#6E6E6E;font-family:Liberation Sans;stroke:#6E6E6E;stroke-width:0.3">R15</text><text transform="translate(442.3,374.11) rotate(-90) scale(0.72,1)" x="2.59 9.07 13.76 18.46 24.68" y="0" text-anchor="middle" style="font-size:9.25px;fill:#3C3C3C;font-family:Liberation Sans;stroke:#3C3C3C;stroke-width:0.3">10.2k</text><text transform="translate(426.3,423.21) rotate(-90) scale(0.7,1)" x="2.72 9.51 16.3" y="0" text-anchor="middle" style="font-size:9.7px;fill:#6E6E6E;font-family:Liberation Sans;stroke:#6E6E6E;stroke-width:0.3">R16</text><text transform="translate(442.3,423.21) rotate(-90) scale(0.75,1)" x="2.59 7.29 11.98 18.2" y="0" text-anchor="middle" style="font-size:9.25px;fill:#3C3C3C;font-family:Liberation Sans;stroke:#3C3C3C;stroke-width:0.3">8.2k</text><text transform="translate(477.71,334.89) scale(0.76,1)" x="2.42 8.48 14.54" y="0" text-anchor="middle" style="font-size:8.66px;fill:#6E6E6E;font-family:Liberation Sans;stroke:#6E6E6E;stroke-width:0.3">C25</text><text transform="translate(477.71,351.79) scale(0.76,1)" x="2.47 8.63 14.79 20.71" y="0" text-anchor="middle" style="font-size:8.81px;fill:#3C3C3C;font-family:Liberation Sans;stroke:#3C3C3C;stroke-width:0.3">560u</text><text transform="translate(467.66,368.85) scale(0.93,1)" x="2.09 7.31" y="0" text-anchor="middle" style="font-size:7.46px;fill:#3C3C3C;font-family:Liberation Sans;stroke:#3C3C3C;stroke-width:0.3">0V</text><text transform="translate(543.6,315.51) scale(0.72,1)" x="2.63 9.21 15.8" y="0" text-anchor="middle" style="font-size:9.4px;fill:#6E6E6E;font-family:Liberation Sans;stroke:#6E6E6E;stroke-width:0.3">R22</text><text transform="translate(543.6,331.21) scale(0.78,1)" x="2.38 8.34" y="0" text-anchor="middle" style="font-size:8.51px;fill:#3C3C3C;font-family:Liberation Sans;stroke:#3C3C3C;stroke-width:0.3">0R</text><text transform="translate(570.2,304.6) scale(0.82,1)" x="2.38 8.34 12.65 16.97 22.93" y="0" text-anchor="middle" style="font-size:8.51px;fill:#3C3C3C;font-family:Liberation Sans;stroke:#3C3C3C;stroke-width:0.3">+1.8V</text><text transform="translate(203.8,466.91) scale(0.71,1)" x="3.8 10.7 17.59 27.1 35.42 43.73 53.24 62.75 72.26 81.76 90.08 98.4 107.53 116.28 125.02 133.77 141.57 148.41 156.21 164" y="0" text-anchor="middle" style="font-size:13.58px;fill:#5A5AD8;font-family:Liberation Sans">1.8V DC–DC Converter</text><text transform="translate(71.31,491.73) rotate(-90) scale(0.81,1)" x="2.34 8.19 14.04" y="0" text-anchor="middle" style="font-size:8.36px;fill:#3C3C3C;font-family:Liberation Sans;stroke:#3C3C3C;stroke-width:0.3">+5V</text><text transform="translate(85.78,515.68) scale(0.71,1)" x="2.59 9.07 15.55" y="0" text-anchor="middle" style="font-size:9.25px;fill:#6E6E6E;font-family:Liberation Sans;stroke:#6E6E6E;stroke-width:0.3">C36</text><text transform="translate(85.78,532.18) scale(0.68,1)" x="2.67 9.36 15.78" y="0" text-anchor="middle" style="font-size:9.55px;fill:#3C3C3C;font-family:Liberation Sans;stroke:#3C3C3C;stroke-width:0.3">10u</text><text transform="translate(74.73,548.95) scale(0.93,1)" x="2.09 7.31" y="0" text-anchor="middle" style="font-size:7.46px;fill:#3C3C3C;font-family:Liberation Sans;stroke:#3C3C3C;stroke-width:0.3">0V</text><text transform="translate(118.52,515.68) scale(0.71,1)" x="2.59 9.07 15.55" y="0" text-anchor="middle" style="font-size:9.25px;fill:#6E6E6E;font-family:Liberation Sans;stroke:#6E6E6E;stroke-width:0.3">C33</text><text transform="translate(118.52,532.18) scale(0.68,1)" x="2.67 9.36 15.78" y="0" text-anchor="middle" style="font-size:9.55px;fill:#3C3C3C;font-family:Liberation Sans;stroke:#3C3C3C;stroke-width:0.3">10u</text><text transform="translate(107.47,548.95) scale(0.93,1)" x="2.09 7.31" y="0" text-anchor="middle" style="font-size:7.46px;fill:#3C3C3C;font-family:Liberation Sans;stroke:#3C3C3C;stroke-width:0.3">0V</text><text transform="translate(167.64,515.68) scale(0.71,1)" x="2.59 9.07 15.55" y="0" text-anchor="middle" style="font-size:9.25px;fill:#6E6E6E;font-family:Liberation Sans;stroke:#6E6E6E;stroke-width:0.3">C32</text><text transform="translate(167.64,532.18) scale(0.68,1)" x="2.67 9.36 15.78" y="0" text-anchor="middle" style="font-size:9.55px;fill:#3C3C3C;font-family:Liberation Sans;stroke:#3C3C3C;stroke-width:0.3">10n</text><text transform="translate(156.59,548.95) scale(0.93,1)" x="2.09 7.31" y="0" text-anchor="middle" style="font-size:7.46px;fill:#3C3C3C;font-family:Liberation Sans;stroke:#3C3C3C;stroke-width:0.3">0V</text><text transform="translate(126.71,581.17) scale(0.71,1)" x="2.59 9.07 15.55" y="0" text-anchor="middle" style="font-size:9.25px;fill:#6E6E6E;font-family:Liberation Sans;stroke:#6E6E6E;stroke-width:0.3">C29</text><text transform="translate(126.71,597.67) scale(0.7,1)" x="2.67 7.52 12.37 18.79" y="0" text-anchor="middle" style="font-size:9.55px;fill:#3C3C3C;font-family:Liberation Sans;stroke:#3C3C3C;stroke-width:0.3">8.2n</text><text transform="translate(115.66,622.62) scale(0.93,1)" x="2.09 7.31" y="0" text-anchor="middle" style="font-size:7.46px;fill:#3C3C3C;font-family:Liberation Sans;stroke:#3C3C3C;stroke-width:0.3">0V</text><text transform="translate(167.64,630.28) scale(0.68,1)" x="2.59 9.07 15.55" y="0" text-anchor="middle" style="font-size:9.25px;fill:#6E6E6E;font-family:Liberation Sans;stroke:#6E6E6E;stroke-width:0.3">C31</text><text transform="translate(167.64,646.78) scale(0.68,1)" x="2.67 9.36 15.78" y="0" text-anchor="middle" style="font-size:9.55px;fill:#3C3C3C;font-family:Liberation Sans;stroke:#3C3C3C;stroke-width:0.3">10p</text><text transform="translate(156.59,671.74) scale(0.93,1)" x="2.09 7.31" y="0" text-anchor="middle" style="font-size:7.46px;fill:#3C3C3C;font-family:Liberation Sans;stroke:#3C3C3C;stroke-width:0.3">0V</text><text transform="translate(216.76,630.28) scale(0.71,1)" x="2.59 9.07 15.55" y="0" text-anchor="middle" style="font-size:9.25px;fill:#6E6E6E;font-family:Liberation Sans;stroke:#6E6E6E;stroke-width:0.3">C30</text><text transform="translate(216.76,646.78) scale(0.7,1)" x="2.67 7.52 12.37 18.79" y="0" text-anchor="middle" style="font-size:9.55px;fill:#3C3C3C;font-family:Liberation Sans;stroke:#3C3C3C;stroke-width:0.3">2.2n</text><text transform="translate(205.71,671.74) scale(0.93,1)" x="2.09 7.31" y="0" text-anchor="middle" style="font-size:7.46px;fill:#3C3C3C;font-family:Liberation Sans;stroke:#3C3C3C;stroke-width:0.3">0V</text><text transform="translate(193.8,604.32) scale(0.69,1)" x="2.67 9.36 16.05" y="0" text-anchor="middle" style="font-size:9.55px;fill:#6E6E6E;font-family:Liberation Sans;stroke:#6E6E6E;stroke-width:0.3">R20</text><text transform="translate(187.8,613.92) scale(0.73,1)" x="2.47 8.63 13.1 17.57 23.49" y="0" text-anchor="middle" style="font-size:8.81px;fill:#3C3C3C;font-family:Liberation Sans;stroke:#3C3C3C;stroke-width:0.3">19.6k</text><text transform="translate(254.82,671.74) scale(0.93,1)" x="2.09 7.31" y="0" text-anchor="middle" style="font-size:7.46px;fill:#3C3C3C;font-family:Liberation Sans;stroke:#3C3C3C;stroke-width:0.3">0V</text><text transform="translate(246.2,545.25) scale(0.74,1)" x="2.09 7.31" y="0" text-anchor="middle" style="font-size:7.46px;fill:#4E4E4E;font-family:Liberation Sans;stroke:#4E4E4E;stroke-width:0.3">EN</text><text transform="translate(246.2,561.62) scale(0.74,1)" x="2.09 7.31" y="0" text-anchor="middle" style="font-size:7.46px;fill:#4E4E4E;font-family:Liberation Sans;stroke:#4E4E4E;stroke-width:0.3">SS</text><text transform="translate(246.2,577.99) scale(0.71,1)" x="2.09 7.31 12.93 18.54" y="0" text-anchor="middle" style="font-size:7.46px;fill:#4E4E4E;font-family:Liberation Sans;stroke:#4E4E4E;stroke-width:0.3">COMP</text><text transform="translate(292.99,537.06) scale(0.74,1)" x="2.09 7.31 12.54 17.76" y="0" text-anchor="middle" style="font-size:7.46px;fill:#4E4E4E;font-family:Liberation Sans;stroke:#4E4E4E;stroke-width:0.3">BOOT</text><text transform="translate(300.69,553.43) scale(0.74,1)" x="2.09 7.31" y="0" text-anchor="middle" style="font-size:7.46px;fill:#4E4E4E;font-family:Liberation Sans;stroke:#4E4E4E;stroke-width:0.3">PH</text><text transform="translate(285.29,618.92) scale(0.74,1)" x="2.09 7.31 12.54 17.76 22.99 28.21" y="0" text-anchor="middle" style="font-size:7.46px;fill:#4E4E4E;font-family:Liberation Sans;stroke:#4E4E4E;stroke-width:0.3">VSENSE</text><text transform="translate(234.3,541.85) scale(0.98,1)" x="1.84" y="0" text-anchor="middle" style="font-size:6.57px;fill:#9C3ADC;font-family:Liberation Sans;stroke:#9C3ADC;stroke-width:0.3">3</text><text transform="translate(234.3,558.22) scale(0.98,1)" x="1.84" y="0" text-anchor="middle" style="font-size:6.57px;fill:#9C3ADC;font-family:Liberation Sans;stroke:#9C3ADC;stroke-width:0.3">4</text><text transform="translate(234.3,574.59) scale(0.98,1)" x="1.84" y="0" text-anchor="middle" style="font-size:6.57px;fill:#9C3ADC;font-family:Liberation Sans;stroke:#9C3ADC;stroke-width:0.3">6</text><text transform="translate(316.2,533.66) scale(0.87,1)" x="1.84" y="0" text-anchor="middle" style="font-size:6.57px;fill:#9C3ADC;font-family:Liberation Sans;stroke:#9C3ADC;stroke-width:0.3">1</text><text transform="translate(316.2,550.03) scale(0.87,1)" x="1.84" y="0" text-anchor="middle" style="font-size:6.57px;fill:#9C3ADC;font-family:Liberation Sans;stroke:#9C3ADC;stroke-width:0.3">8</text><text transform="translate(316.2,615.52) scale(0.87,1)" x="1.84" y="0" text-anchor="middle" style="font-size:6.57px;fill:#9C3ADC;font-family:Liberation Sans;stroke:#9C3ADC;stroke-width:0.3">5</text><text transform="translate(267.6,520.62) rotate(-90) scale(1.11,1)" x="1.76" y="0" text-anchor="middle" style="font-size:6.27px;fill:#9C3ADC;font-family:Liberation Sans;stroke:#9C3ADC;stroke-width:0.3">2</text><text transform="translate(270.6,538.02) rotate(-90) scale(0.78,1)" x="2.01 5.77 9.53" y="0" text-anchor="middle" style="font-size:7.16px;fill:#4E4E4E;font-family:Liberation Sans;stroke:#4E4E4E;stroke-width:0.3">VIN</text><text transform="translate(262.6,630.82) rotate(-90) scale(0.8,1)" x="2.13 7.46 12.79" y="0" text-anchor="middle" style="font-size:7.61px;fill:#4E4E4E;font-family:Liberation Sans;stroke:#4E4E4E;stroke-width:0.3">GND</text><text transform="translate(259.8,642.72) rotate(-90) scale(0.95,1)" x="1.84" y="0" text-anchor="middle" style="font-size:6.57px;fill:#9C3ADC;font-family:Liberation Sans;stroke:#9C3ADC;stroke-width:0.3">7</text><text transform="translate(277.5,639.32) scale(0.94,1)" x="2.17 7.61" y="0" text-anchor="middle" style="font-size:7.76px;fill:#6E6E6E;font-family:Liberation Sans;stroke:#6E6E6E;stroke-width:0.3">U5</text><text transform="translate(277.5,647.42) scale(0.81,1)" x="2.26 7.9 13.54 19.18 24.82 30.47 36.11 41.75" y="0" text-anchor="middle" style="font-size:8.06px;fill:#3C3C3C;font-family:Liberation Sans;stroke:#3C3C3C;stroke-width:0.3">TPS54231</text><text transform="translate(211.6,541.82) scale(0.87,1)" x="1.92 6.73 11.53 16.34 19.82 23.31 28.11" y="0" text-anchor="middle" style="font-size:6.87px;fill:#3C3C3C;font-family:Liberation Sans;stroke:#3C3C3C;stroke-width:0.3">EN_3.3V</text><text transform="translate(339.8,515.32) scale(0.79,1)" x="2.34 8.19 14.04" y="0" text-anchor="middle" style="font-size:8.36px;fill:#6E6E6E;font-family:Liberation Sans;stroke:#6E6E6E;stroke-width:0.3">C28</text><text transform="translate(339.8,524.32) scale(0.7,1)" x="2.67 9.36 16.05 22.47" y="0" text-anchor="middle" style="font-size:9.55px;fill:#3C3C3C;font-family:Liberation Sans;stroke:#3C3C3C;stroke-width:0.3">100n</text><text transform="translate(344.87,598.06) scale(0.93,1)" x="2.09 7.31" y="0" text-anchor="middle" style="font-size:7.46px;fill:#3C3C3C;font-family:Liberation Sans;stroke:#3C3C3C;stroke-width:0.3">0V</text><text transform="translate(361.2,581.42) rotate(-90) scale(0.95,1)" x="1.88 6.58" y="0" text-anchor="middle" style="font-size:6.72px;fill:#6E6E6E;font-family:Liberation Sans;stroke:#6E6E6E;stroke-width:0.3">D5</text><text transform="translate(370.2,581.42) rotate(-90) scale(0.64,1)" x="2.93 10.24 17.55 24.87 32.18" y="0" text-anchor="middle" style="font-size:10.45px;fill:#3C3C3C;font-family:Liberation Sans;stroke:#3C3C3C;stroke-width:0.3">B340A</text><text transform="translate(398.9,546.02) scale(0.78,1)" x="2.34 8.19 13.81 19.42" y="0" text-anchor="middle" style="font-size:8.36px;fill:#3C3C3C;font-family:Liberation Sans;stroke:#3C3C3C;stroke-width:0.3">10uH</text><text transform="translate(407.9,562.92) scale(0.7,1)" x="2.21 7.75" y="0" text-anchor="middle" style="font-size:7.91px;fill:#6E6E6E;font-family:Liberation Sans;stroke:#6E6E6E;stroke-width:0.3">L3</text><text transform="translate(426.73,671.74) scale(0.93,1)" x="2.09 7.31" y="0" text-anchor="middle" style="font-size:7.46px;fill:#3C3C3C;font-family:Liberation Sans;stroke:#3C3C3C;stroke-width:0.3">0V</text><text transform="translate(426.3,603.32) rotate(-90) scale(0.69,1)" x="2.72 9.51 16.3" y="0" text-anchor="middle" style="font-size:9.7px;fill:#6E6E6E;font-family:Liberation Sans;stroke:#6E6E6E;stroke-width:0.3">R18</text><text transform="translate(442.3,603.32) rotate(-90) scale(0.72,1)" x="2.59 9.07 13.76 18.46 24.68" y="0" text-anchor="middle" style="font-size:9.25px;fill:#3C3C3C;font-family:Liberation Sans;stroke:#3C3C3C;stroke-width:0.3">10.2k</text><text transform="translate(426.3,652.42) rotate(-90) scale(0.7,1)" x="2.72 9.51 16.3" y="0" text-anchor="middle" style="font-size:9.7px;fill:#6E6E6E;font-family:Liberation Sans;stroke:#6E6E6E;stroke-width:0.3">R19</text><text transform="translate(442.3,652.42) rotate(-90) scale(0.71,1)" x="2.59 7.29 11.98 18.46 24.68" y="0" text-anchor="middle" style="font-size:9.25px;fill:#3C3C3C;font-family:Liberation Sans;stroke:#3C3C3C;stroke-width:0.3">3.24k</text><text transform="translate(477.71,564.1) scale(0.76,1)" x="2.42 8.48 14.54" y="0" text-anchor="middle" style="font-size:8.66px;fill:#6E6E6E;font-family:Liberation Sans;stroke:#6E6E6E;stroke-width:0.3">C34</text><text transform="translate(477.71,581) scale(0.76,1)" x="2.47 8.63 14.79 20.71" y="0" text-anchor="middle" style="font-size:8.81px;fill:#3C3C3C;font-family:Liberation Sans;stroke:#3C3C3C;stroke-width:0.3">560u</text><text transform="translate(467.66,598.06) scale(0.93,1)" x="2.09 7.31" y="0" text-anchor="middle" style="font-size:7.46px;fill:#3C3C3C;font-family:Liberation Sans;stroke:#3C3C3C;stroke-width:0.3">0V</text><text transform="translate(543.6,544.72) scale(0.72,1)" x="2.63 9.21 15.8" y="0" text-anchor="middle" style="font-size:9.4px;fill:#6E6E6E;font-family:Liberation Sans;stroke:#6E6E6E;stroke-width:0.3">R23</text><text transform="translate(543.6,560.42) scale(0.78,1)" x="2.38 8.34" y="0" text-anchor="middle" style="font-size:8.51px;fill:#3C3C3C;font-family:Liberation Sans;stroke:#3C3C3C;stroke-width:0.3">0R</text><text transform="translate(588,535.2) rotate(-90) scale(0.62,1)" x="3.09 10.82 18.56 26.29" y="0" text-anchor="middle" style="font-size:11.04px;fill:#3C3C3C;font-family:Liberation Sans;stroke:#3C3C3C;stroke-width:0.3">+3V3</text><text transform="translate(203.8,696.12) scale(0.71,1)" x="3.8 10.7 17.59 27.1 35.42 43.73 53.24 62.75 72.26 81.76 90.08 98.4 107.53 116.28 125.02 133.77 141.57 148.41 156.21 164" y="0" text-anchor="middle" style="font-size:13.58px;fill:#5A5AD8;font-family:Liberation Sans">3.3V DC–DC Converter</text><text transform="translate(701.63,90.62) rotate(-90) scale(0.81,1)" x="2.34 8.19 14.04" y="0" text-anchor="middle" style="font-size:8.36px;fill:#3C3C3C;font-family:Liberation Sans;stroke:#3C3C3C;stroke-width:0.3">+5V</text><text transform="translate(724.29,114.57) scale(0.71,1)" x="2.59 9.07 15.55" y="0" text-anchor="middle" style="font-size:9.25px;fill:#6E6E6E;font-family:Liberation Sans;stroke:#6E6E6E;stroke-width:0.3">C37</text><text transform="translate(724.29,131.07) scale(0.68,1)" x="2.67 9.36 16.05 22.47" y="0" text-anchor="middle" style="font-size:9.55px;fill:#3C3C3C;font-family:Liberation Sans;stroke:#3C3C3C;stroke-width:0.3">100n</text><text transform="translate(713.24,147.83) scale(0.93,1)" x="2.09 7.31" y="0" text-anchor="middle" style="font-size:7.46px;fill:#3C3C3C;font-family:Liberation Sans;stroke:#3C3C3C;stroke-width:0.3">0V</text><text transform="translate(627.96,123.36) rotate(-90) scale(0.81,1)" x="2.34 8.19 14.04" y="0" text-anchor="middle" style="font-size:8.36px;fill:#3C3C3C;font-family:Liberation Sans;stroke:#3C3C3C;stroke-width:0.3">+5V</text><text transform="translate(615.01,270.62) scale(0.93,1)" x="2.09 7.31" y="0" text-anchor="middle" style="font-size:7.46px;fill:#3C3C3C;font-family:Liberation Sans;stroke:#3C3C3C;stroke-width:0.3">0V</text><text transform="translate(614.4,170) rotate(-90) scale(0.75,1)" x="2.47 8.63 14.79" y="0" text-anchor="middle" style="font-size:8.81px;fill:#6E6E6E;font-family:Liberation Sans;stroke:#6E6E6E;stroke-width:0.3">R27</text><text transform="translate(630,169.2) rotate(-90) scale(0.76,1)" x="2.51 7.05 11.6 17.61" y="0" text-anchor="middle" style="font-size:8.96px;fill:#3C3C3C;font-family:Liberation Sans;stroke:#3C3C3C;stroke-width:0.3">4.7k</text><text transform="translate(614.4,235.1) rotate(-90) scale(0.7,1)" x="2.67 9.36 16.05" y="0" text-anchor="middle" style="font-size:9.55px;fill:#6E6E6E;font-family:Liberation Sans;stroke:#6E6E6E;stroke-width:0.3">R28</text><text transform="translate(630,235.1) rotate(-90) scale(0.76,1)" x="2.51 7.05 11.6 17.61" y="0" text-anchor="middle" style="font-size:8.96px;fill:#3C3C3C;font-family:Liberation Sans;stroke:#3C3C3C;stroke-width:0.3">1.8k</text><text transform="translate(647.75,229.69) scale(0.93,1)" x="2.09 7.31" y="0" text-anchor="middle" style="font-size:7.46px;fill:#3C3C3C;font-family:Liberation Sans;stroke:#3C3C3C;stroke-width:0.3">0V</text><text transform="translate(688.68,270.62) scale(0.93,1)" x="2.09 7.31" y="0" text-anchor="middle" style="font-size:7.46px;fill:#3C3C3C;font-family:Liberation Sans;stroke:#3C3C3C;stroke-width:0.3">0V</text><text transform="translate(765.22,237.36) scale(0.71,1)" x="2.59 9.07 15.55" y="0" text-anchor="middle" style="font-size:9.25px;fill:#6E6E6E;font-family:Liberation Sans;stroke:#6E6E6E;stroke-width:0.3">C38</text><text transform="translate(765.22,253.86) scale(0.68,1)" x="2.67 9.36 15.78" y="0" text-anchor="middle" style="font-size:9.55px;fill:#3C3C3C;font-family:Liberation Sans;stroke:#3C3C3C;stroke-width:0.3">10n</text><text transform="translate(754.17,270.62) scale(0.93,1)" x="2.09 7.31" y="0" text-anchor="middle" style="font-size:7.46px;fill:#3C3C3C;font-family:Liberation Sans;stroke:#3C3C3C;stroke-width:0.3">0V</text><text transform="translate(799.86,98.8) rotate(-90) scale(0.81,1)" x="2.34 8.19 14.04" y="0" text-anchor="middle" style="font-size:8.36px;fill:#3C3C3C;font-family:Liberation Sans;stroke:#3C3C3C;stroke-width:0.3">+5V</text><text transform="translate(777.1,145.3) rotate(-90) scale(0.74,1)" x="2.55 8.92 15.3 21.41" y="0" text-anchor="middle" style="font-size:9.1px;fill:#3C3C3C;font-family:Liberation Sans;stroke:#3C3C3C;stroke-width:0.3">100k</text><text transform="translate(777.6,170) rotate(-90) scale(0.71,1)" x="2.63 9.21 15.8" y="0" text-anchor="middle" style="font-size:9.4px;fill:#6E6E6E;font-family:Liberation Sans;stroke:#6E6E6E;stroke-width:0.3">R24</text><text transform="translate(793.5,145.3) rotate(-90) scale(0.74,1)" x="2.55 8.92 15.3 21.41" y="0" text-anchor="middle" style="font-size:9.1px;fill:#3C3C3C;font-family:Liberation Sans;stroke:#3C3C3C;stroke-width:0.3">100k</text><text transform="translate(794,170) rotate(-90) scale(0.71,1)" x="2.63 9.21 15.8" y="0" text-anchor="middle" style="font-size:9.4px;fill:#6E6E6E;font-family:Liberation Sans;stroke:#6E6E6E;stroke-width:0.3">R25</text><text transform="translate(809.9,145.3) rotate(-90) scale(0.74,1)" x="2.55 8.92 15.3 21.41" y="0" text-anchor="middle" style="font-size:9.1px;fill:#3C3C3C;font-family:Liberation Sans;stroke:#3C3C3C;stroke-width:0.3">100k</text><text transform="translate(810.4,170) rotate(-90) scale(0.71,1)" x="2.63 9.21 15.8" y="0" text-anchor="middle" style="font-size:9.4px;fill:#6E6E6E;font-family:Liberation Sans;stroke:#6E6E6E;stroke-width:0.3">R26</text><text transform="translate(693.6,150) rotate(-90) scale(1.02,1)" x="1.71" y="0" text-anchor="middle" style="font-size:6.12px;fill:#9C3ADC;font-family:Liberation Sans;stroke:#9C3ADC;stroke-width:0.3">1</text><text transform="translate(697.1,171.6) rotate(-90) scale(0.83,1)" x="2.01 7.02 12.04" y="0" text-anchor="middle" style="font-size:7.16px;fill:#4E4E4E;font-family:Liberation Sans;stroke:#4E4E4E;stroke-width:0.3">VCC</text><text transform="translate(671.9,185.2) scale(0.78,1)" x="2.09 7.31" y="0" text-anchor="middle" style="font-size:7.46px;fill:#4E4E4E;font-family:Liberation Sans;stroke:#4E4E4E;stroke-width:0.3">EN</text><text transform="translate(671.9,209.9) scale(0.76,1)" x="1.04 4.96 10.19" y="0" text-anchor="middle" style="font-size:7.46px;fill:#4E4E4E;font-family:Liberation Sans;stroke:#4E4E4E;stroke-width:0.3">INV</text><text transform="translate(659.8,182) scale(0.99,1)" x="1.92" y="0" text-anchor="middle" style="font-size:6.87px;fill:#9C3ADC;font-family:Liberation Sans;stroke:#9C3ADC;stroke-width:0.3">2</text><text transform="translate(659.8,206.6) scale(1.02,1)" x="1.96" y="0" text-anchor="middle" style="font-size:7.01px;fill:#9C3ADC;font-family:Liberation Sans;stroke:#9C3ADC;stroke-width:0.3">4</text><text transform="translate(715.7,185.06) scale(0.71,1)" x="2.09 7.31 12.54 17.76 22.99" y="0" text-anchor="middle" style="font-size:7.46px;fill:#4E4E4E;font-family:Liberation Sans;stroke:#4E4E4E;stroke-width:0.3">FLAG1</text><text transform="translate(742.2,181.66) scale(0.9,1)" x="1.84" y="0" text-anchor="middle" style="font-size:6.57px;fill:#9C3ADC;font-family:Liberation Sans;stroke:#9C3ADC;stroke-width:0.3">8</text><text transform="translate(715.7,193.25) scale(0.71,1)" x="2.09 7.31 12.54 17.76 22.99" y="0" text-anchor="middle" style="font-size:7.46px;fill:#4E4E4E;font-family:Liberation Sans;stroke:#4E4E4E;stroke-width:0.3">FLAG2</text><text transform="translate(742.2,189.85) scale(0.9,1)" x="1.84" y="0" text-anchor="middle" style="font-size:6.57px;fill:#9C3ADC;font-family:Liberation Sans;stroke:#9C3ADC;stroke-width:0.3">7</text><text transform="translate(715.7,201.43) scale(0.71,1)" x="2.09 7.31 12.54 17.76 22.99" y="0" text-anchor="middle" style="font-size:7.46px;fill:#4E4E4E;font-family:Liberation Sans;stroke:#4E4E4E;stroke-width:0.3">FLAG3</text><text transform="translate(742.2,198.03) scale(0.9,1)" x="1.84" y="0" text-anchor="middle" style="font-size:6.57px;fill:#9C3ADC;font-family:Liberation Sans;stroke:#9C3ADC;stroke-width:0.3">6</text><text transform="translate(720.7,225.99) scale(0.65,1)" x="2.09 7.31 12.54 17.76" y="0" text-anchor="middle" style="font-size:7.46px;fill:#4E4E4E;font-family:Liberation Sans;stroke:#4E4E4E;stroke-width:0.3">TADJ</text><text transform="translate(742.2,222.59) scale(0.9,1)" x="1.84" y="0" text-anchor="middle" style="font-size:6.57px;fill:#9C3ADC;font-family:Liberation Sans;stroke:#9C3ADC;stroke-width:0.3">5</text><text transform="translate(696.8,237.6) rotate(-90) scale(0.81,1)" x="2.01 7.02 12.04" y="0" text-anchor="middle" style="font-size:7.16px;fill:#4E4E4E;font-family:Liberation Sans;stroke:#4E4E4E;stroke-width:0.3">GND</text><text transform="translate(693.5,250.1) rotate(-90) scale(1.11,1)" x="1.71" y="0" text-anchor="middle" style="font-size:6.12px;fill:#9C3ADC;font-family:Liberation Sans;stroke:#9C3ADC;stroke-width:0.3">3</text><text transform="translate(703.2,246.6) scale(0.91,1)" x="2.3 8.04" y="0" text-anchor="middle" style="font-size:8.21px;fill:#6E6E6E;font-family:Liberation Sans;stroke:#6E6E6E;stroke-width:0.3">U6</text><text transform="translate(703.2,254.6) scale(0.74,1)" x="2.47 9.09 15.72 21.88 28.05 34.21" y="0" text-anchor="middle" style="font-size:8.81px;fill:#3C3C3C;font-family:Liberation Sans;stroke:#3C3C3C;stroke-width:0.3">LM3881</text><text transform="translate(842,182.2) scale(0.78,1)" x="1.92 6.73 11.53 16.34 21.15" y="0" text-anchor="middle" style="font-size:6.87px;fill:#3C3C3C;font-family:Liberation Sans;stroke:#3C3C3C;stroke-width:0.3">EN_1V</text><text transform="translate(842,190.3) scale(0.78,1)" x="1.96 6.87 11.79 16.7 20.26 23.82 28.73" y="0" text-anchor="middle" style="font-size:7.01px;fill:#3C3C3C;font-family:Liberation Sans;stroke:#3C3C3C;stroke-width:0.3">EN_1.8V</text><text transform="translate(842,198.4) scale(0.78,1)" x="1.96 6.87 11.79 16.7 20.26 23.82 28.73" y="0" text-anchor="middle" style="font-size:7.01px;fill:#3C3C3C;font-family:Liberation Sans;stroke:#3C3C3C;stroke-width:0.3">EN_3.3V</text><text transform="translate(703.9,302.9) scale(0.73,1)" x="3.59 12.22 21.52 30.82 38.19 44.79 52.65 61.28 69.54 77.81 86.08 94.34 102.61 110.88 118.24" y="0" text-anchor="middle" style="font-size:12.84px;fill:#5A5AD8;font-family:Liberation Sans">Power Sequencer</text><text transform="translate(647.75,540.76) scale(0.93,1)" x="2.09 7.31" y="0" text-anchor="middle" style="font-size:7.46px;fill:#3C3C3C;font-family:Liberation Sans;stroke:#3C3C3C;stroke-width:0.3">0V</text><text transform="translate(613,475.8) scale(0.72,1)" x="2.47 8.63" y="0" text-anchor="middle" style="font-size:8.81px;fill:#6E6E6E;font-family:Liberation Sans;stroke:#6E6E6E;stroke-width:0.3">J3</text><text transform="translate(613,508.1) scale(0.83,1)" x="2.3 8.04 13.79 19.54 24.57 28.16 32.47" y="0" text-anchor="middle" style="font-size:8.21px;fill:#3C3C3C;font-family:Liberation Sans;stroke:#3C3C3C;stroke-width:0.3">5VDC IN</text><text transform="translate(678.6,475.8) scale(0.74,1)" x="2.47 8.63" y="0" text-anchor="middle" style="font-size:8.81px;fill:#6E6E6E;font-family:Liberation Sans;stroke:#6E6E6E;stroke-width:0.3">F1</text><text transform="translate(670.5,496.4) scale(0.7,1)" x="2.63 7.4 12.18 18.76 24.52 30.28 36.86 43.44 50.02" y="0" text-anchor="middle" style="font-size:9.4px;fill:#3C3C3C;font-family:Liberation Sans;stroke:#3C3C3C;stroke-width:0.3">2.6A POLY</text><text transform="translate(848.98,467.17) rotate(-90) scale(0.81,1)" x="2.34 8.19 14.04" y="0" text-anchor="middle" style="font-size:8.36px;fill:#3C3C3C;font-family:Liberation Sans;stroke:#3C3C3C;stroke-width:0.3">+5V</text><text transform="translate(737.8,540.76) scale(0.93,1)" x="2.09 7.31" y="0" text-anchor="middle" style="font-size:7.46px;fill:#3C3C3C;font-family:Liberation Sans;stroke:#3C3C3C;stroke-width:0.3">0V</text><text transform="translate(742.6,559) rotate(-90) scale(0.71,1)" x="2.67 9.36 16.05 22.73 29.42 36.11 42.79 49.48 56.17 62.85" y="0" text-anchor="middle" style="font-size:9.55px;fill:#3C3C3C;font-family:Liberation Sans;stroke:#3C3C3C;stroke-width:0.3">STPS2L40UF</text><text transform="translate(742.4,516.5) rotate(-90) scale(0.87,1)" x="2.42 8.48" y="0" text-anchor="middle" style="font-size:8.66px;fill:#6E6E6E;font-family:Liberation Sans;stroke:#6E6E6E;stroke-width:0.3">D3</text><text transform="translate(780.59,498.61) scale(0.73,1)" x="2.42 8.48 14.54" y="0" text-anchor="middle" style="font-size:8.66px;fill:#6E6E6E;font-family:Liberation Sans;stroke:#6E6E6E;stroke-width:0.3">C17</text><text transform="translate(780.59,515.51) scale(0.73,1)" x="2.47 8.63 14.79 20.71 25.86 31.25 37.42 43.58" y="0" text-anchor="middle" style="font-size:8.81px;fill:#3C3C3C;font-family:Liberation Sans;stroke:#3C3C3C;stroke-width:0.3">560u 10V</text><text transform="translate(770.54,540.76) scale(0.93,1)" x="2.09 7.31" y="0" text-anchor="middle" style="font-size:7.46px;fill:#3C3C3C;font-family:Liberation Sans;stroke:#3C3C3C;stroke-width:0.3">0V</text><text transform="translate(838.89,499.31) scale(0.68,1)" x="2.59 9.07 15.55" y="0" text-anchor="middle" style="font-size:9.25px;fill:#6E6E6E;font-family:Liberation Sans;stroke:#6E6E6E;stroke-width:0.3">C18</text><text transform="translate(838.89,515.81) scale(0.68,1)" x="2.67 9.36 15.78" y="0" text-anchor="middle" style="font-size:9.55px;fill:#3C3C3C;font-family:Liberation Sans;stroke:#3C3C3C;stroke-width:0.3">10u</text><text transform="translate(827.84,540.76) scale(0.93,1)" x="2.09 7.31" y="0" text-anchor="middle" style="font-size:7.46px;fill:#3C3C3C;font-family:Liberation Sans;stroke:#3C3C3C;stroke-width:0.3">0V</text><text transform="translate(679.2,565) scale(0.74,1)" x="3.43 11.65 20.52 29.39 36.41 42.71 50.2 58.43 65.45 71.62 78.65" y="0" text-anchor="middle" style="font-size:12.24px;fill:#5A5AD8;font-family:Liberation Sans">Power Entry</text><text transform="translate(86.8,21.6) scale(0.76,1)" x="3.68" y="0" text-anchor="middle" style="font-size:13.13px;fill:#2433E6;font-family:Liberation Sans;stroke:#2433E6;stroke-width:0.45">1</text><text transform="translate(236.9,21.6) scale(0.76,1)" x="3.68" y="0" text-anchor="middle" style="font-size:13.13px;fill:#2433E6;font-family:Liberation Sans;stroke:#2433E6;stroke-width:0.45">2</text><text transform="translate(387,21.6) scale(0.76,1)" x="3.68" y="0" text-anchor="middle" style="font-size:13.13px;fill:#2433E6;font-family:Liberation Sans;stroke:#2433E6;stroke-width:0.45">3</text><text transform="translate(537.1,21.6) scale(0.76,1)" x="3.68" y="0" text-anchor="middle" style="font-size:13.13px;fill:#2433E6;font-family:Liberation Sans;stroke:#2433E6;stroke-width:0.45">4</text><text transform="translate(687.1,21.6) scale(0.76,1)" x="3.68" y="0" text-anchor="middle" style="font-size:13.13px;fill:#2433E6;font-family:Liberation Sans;stroke:#2433E6;stroke-width:0.45">5</text><text transform="translate(837.2,21.6) scale(0.76,1)" x="3.68" y="0" text-anchor="middle" style="font-size:13.13px;fill:#2433E6;font-family:Liberation Sans;stroke:#2433E6;stroke-width:0.45">6</text><text transform="translate(643.8,21.6) scale(0.76,1)" x="3.68" y="0" text-anchor="middle" style="font-size:13.13px;fill:#2433E6;font-family:Liberation Sans;stroke:#2433E6;stroke-width:0.45">1</text><text transform="translate(793.9,21.6) scale(0.76,1)" x="3.68" y="0" text-anchor="middle" style="font-size:13.13px;fill:#2433E6;font-family:Liberation Sans;stroke:#2433E6;stroke-width:0.45">2</text><text transform="translate(944,21.6) scale(0.76,1)" x="3.68" y="0" text-anchor="middle" style="font-size:13.13px;fill:#2433E6;font-family:Liberation Sans;stroke:#2433E6;stroke-width:0.45">3</text><text transform="translate(17.6,85) scale(0.84,1)" x="3.68" y="0" text-anchor="middle" style="font-size:13.13px;fill:#2433E6;font-family:Liberation Sans;stroke:#2433E6;stroke-width:0.45">A</text><text transform="translate(574.9,85) scale(0.84,1)" x="3.68" y="0" text-anchor="middle" style="font-size:13.13px;fill:#2433E6;font-family:Liberation Sans;stroke:#2433E6;stroke-width:0.45">A</text><text transform="translate(906.4,85) scale(0.84,1)" x="3.68" y="0" text-anchor="middle" style="font-size:13.13px;fill:#2433E6;font-family:Liberation Sans;stroke:#2433E6;stroke-width:0.45">A</text><text transform="translate(17.6,224) scale(0.84,1)" x="3.68" y="0" text-anchor="middle" style="font-size:13.13px;fill:#2433E6;font-family:Liberation Sans;stroke:#2433E6;stroke-width:0.45">B</text><text transform="translate(574.9,224) scale(0.84,1)" x="3.68" y="0" text-anchor="middle" style="font-size:13.13px;fill:#2433E6;font-family:Liberation Sans;stroke:#2433E6;stroke-width:0.45">B</text><text transform="translate(906.4,224) scale(0.84,1)" x="3.68" y="0" text-anchor="middle" style="font-size:13.13px;fill:#2433E6;font-family:Liberation Sans;stroke:#2433E6;stroke-width:0.45">B</text><text transform="translate(17.6,363.1) scale(0.84,1)" x="3.68" y="0" text-anchor="middle" style="font-size:13.13px;fill:#2433E6;font-family:Liberation Sans;stroke:#2433E6;stroke-width:0.45">C</text><text transform="translate(574.9,363.1) scale(0.84,1)" x="3.68" y="0" text-anchor="middle" style="font-size:13.13px;fill:#2433E6;font-family:Liberation Sans;stroke:#2433E6;stroke-width:0.45">C</text><text transform="translate(906.4,363.1) scale(0.84,1)" x="3.68" y="0" text-anchor="middle" style="font-size:13.13px;fill:#2433E6;font-family:Liberation Sans;stroke:#2433E6;stroke-width:0.45">C</text><text transform="translate(17.6,502.2) scale(0.84,1)" x="3.68" y="0" text-anchor="middle" style="font-size:13.13px;fill:#2433E6;font-family:Liberation Sans;stroke:#2433E6;stroke-width:0.45">D</text><text transform="translate(574.9,502.2) scale(0.84,1)" x="3.68" y="0" text-anchor="middle" style="font-size:13.13px;fill:#2433E6;font-family:Liberation Sans;stroke:#2433E6;stroke-width:0.45">D</text><text transform="translate(906.4,502.2) scale(0.84,1)" x="3.68" y="0" text-anchor="middle" style="font-size:13.13px;fill:#2433E6;font-family:Liberation Sans;stroke:#2433E6;stroke-width:0.45">D</text><text transform="translate(17.6,641.3) scale(0.84,1)" x="3.68" y="0" text-anchor="middle" style="font-size:13.13px;fill:#2433E6;font-family:Liberation Sans;stroke:#2433E6;stroke-width:0.45">E</text><text transform="translate(574.9,641.3) scale(0.84,1)" x="3.68" y="0" text-anchor="middle" style="font-size:13.13px;fill:#2433E6;font-family:Liberation Sans;stroke:#2433E6;stroke-width:0.45">E</text><text transform="translate(906.4,641.3) scale(0.84,1)" x="3.68" y="0" text-anchor="middle" style="font-size:13.13px;fill:#2433E6;font-family:Liberation Sans;stroke:#2433E6;stroke-width:0.45">E</text><text transform="translate(582,620.4) scale(0.73,1)" x="7.27 24.72 41.45 56.36 69.44 84.35 101.08 116.26 132.16 148.07 163.98 181.43 198.15 213.06 227.97" y="0" text-anchor="middle" style="font-size:25.97px;fill:#5050DC;font-family:Liberation Sans;stroke:#F5F4EF;stroke-width:0.7">Spartan 7 Board</text><text transform="translate(576,642.6) scale(0.63,1)" x="3.84 11.05 18.26 27.87 37.49 44.46" y="0" text-anchor="middle" style="font-size:13.73px;fill:#2535E6;font-family:Liberation Sans;stroke:#2535E6;stroke-width:0.45">TITLE:</text><text transform="translate(630.3,642.6) scale(0.71,1)" x="3.84 13.46 23.07 32.68 43.01 50.94 58.15 67.76 77.38 86.99 96.6 106.93 117.27" y="0" text-anchor="middle" style="font-size:13.73px;fill:#2535E6;font-family:Liberation Sans;stroke:#2535E6;stroke-width:0.45">&gt;DRAWING_NAME</text><text transform="translate(577.1,667.3) scale(0.79,1)" x="3.51 11.94 20.01 28.08 37.17 46.25 54.32 61.52 67.97 75.65 84.08 93.16 102.24 110.32 117.51 122.65" y="0" text-anchor="middle" style="font-size:12.54px;fill:#2535E6;font-family:Liberation Sans;stroke:#2535E6;stroke-width:0.45">Document Number:</text><text transform="translate(859,667.3) scale(0.75,1)" x="3.51 12.29 21.06 27.43" y="0" text-anchor="middle" style="font-size:12.54px;fill:#2535E6;font-family:Liberation Sans;stroke:#2535E6;stroke-width:0.45">REV:</text><text transform="translate(886.5,677.7) scale(0.57,1)" x="6.98" y="0" text-anchor="middle" style="font-size:24.93px;fill:#5050DC;font-family:Liberation Sans;stroke:#F5F4EF;stroke-width:0.9">1</text><text transform="translate(577.1,699.9) scale(0.73,1)" x="3.55 12.08 19.36 26.64 32.72" y="0" text-anchor="middle" style="font-size:12.69px;fill:#2535E6;font-family:Liberation Sans;stroke:#2535E6;stroke-width:0.45">Date:</text><text transform="translate(614.2,699.9) scale(0.69,1)" x="3.55 12.43 21.31 30.19 39.07 47.96 56.84 65.72 74.6 83.48 92.36 101.24 107.9 115.23 124.77" y="0" text-anchor="middle" style="font-size:12.69px;fill:#2535E6;font-family:Liberation Sans;stroke:#2535E6;stroke-width:0.45">&gt;LAST_DATE_TIME</text><text transform="translate(805.8,699.9) scale(0.73,1)" x="3.55 12.08 20.25 28.42 35.7 40.9" y="0" text-anchor="middle" style="font-size:12.69px;fill:#2535E6;font-family:Liberation Sans;stroke:#2535E6;stroke-width:0.45">Sheet:</text><text transform="translate(851,699.9) scale(0.78,1)" x="3.55 12.43 21.31 30.19 39.07 47.96" y="0" text-anchor="middle" style="font-size:12.69px;fill:#2535E6;font-family:Liberation Sans;stroke:#2535E6;stroke-width:0.45">&gt;SHEET</text></g>
</svg>
</body></html>
